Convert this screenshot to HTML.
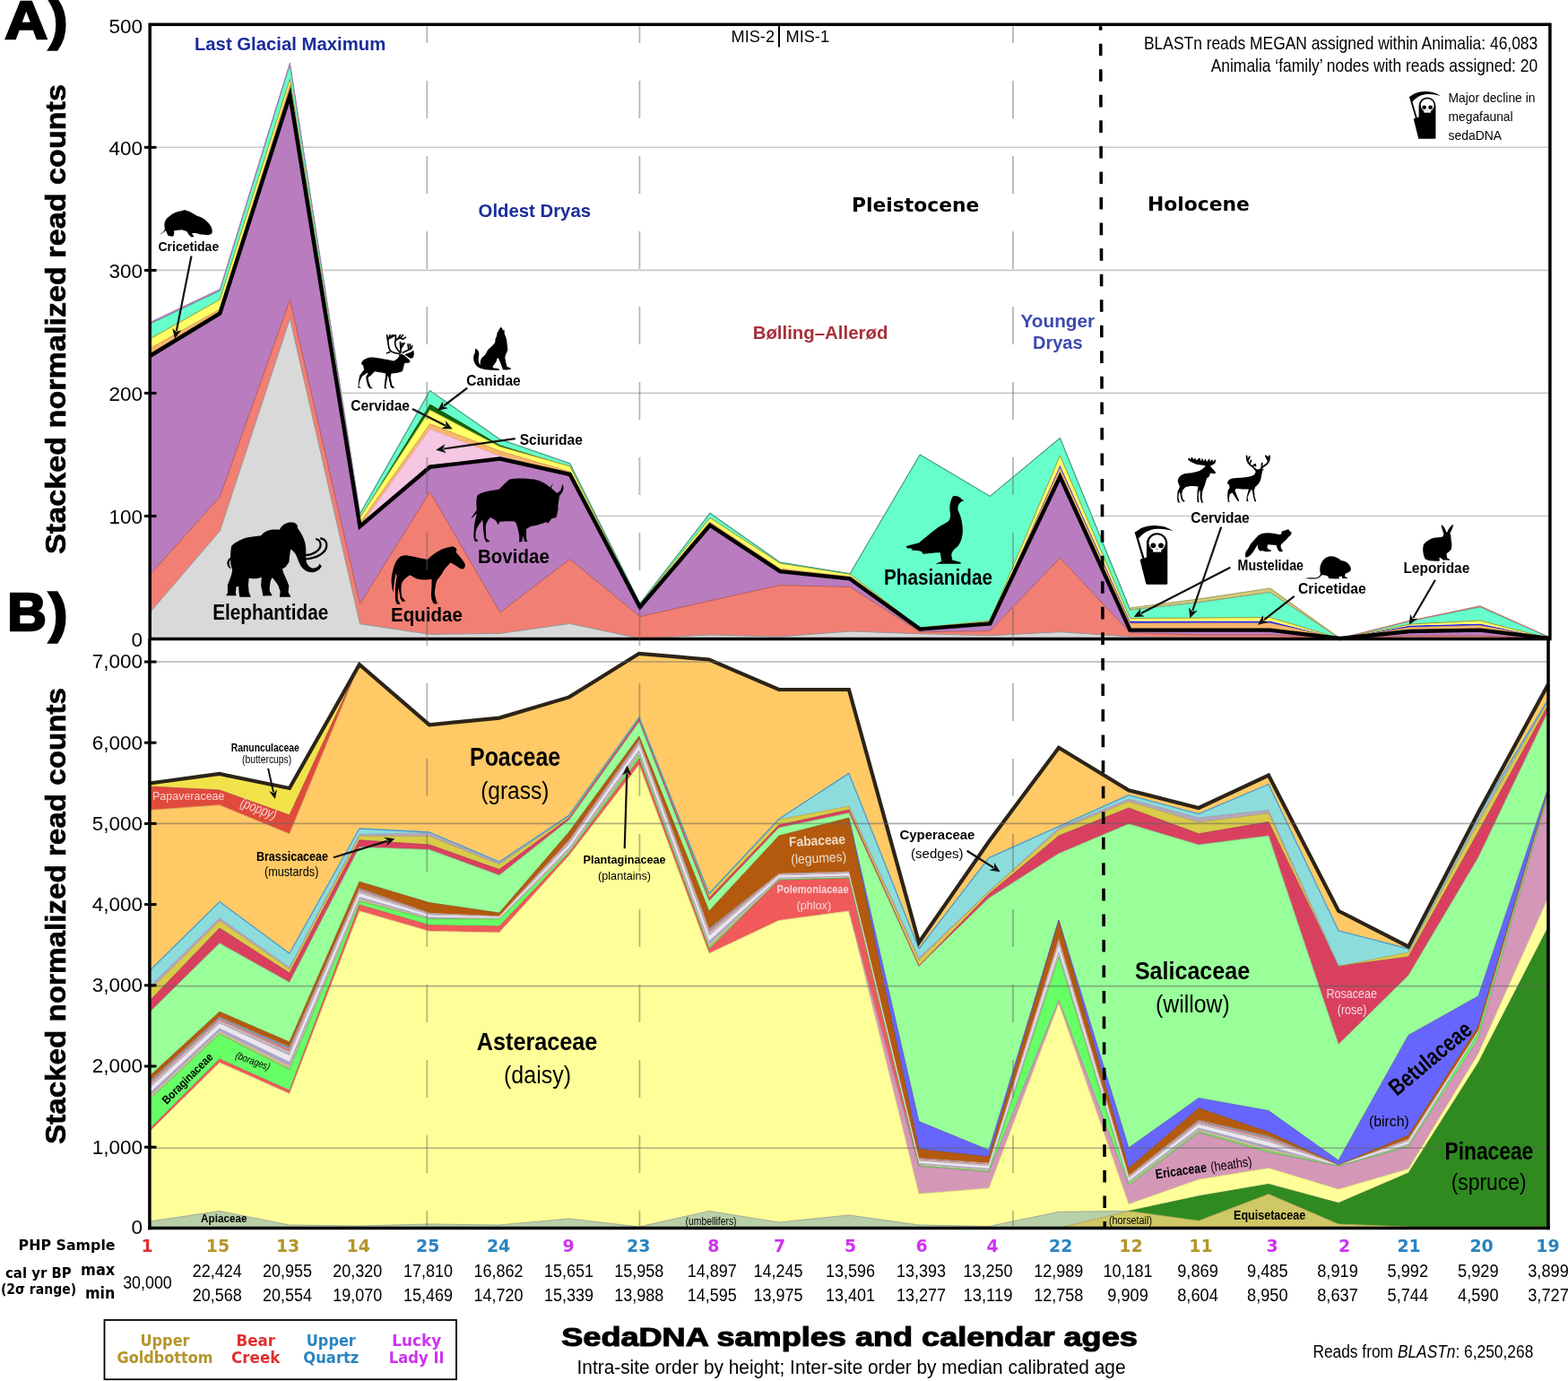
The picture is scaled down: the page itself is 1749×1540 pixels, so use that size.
<!DOCTYPE html>
<html><head><meta charset="utf-8"><title>sedaDNA stacked read counts</title>
<style>html,body{margin:0;padding:0;background:#fff;}svg{display:block;}</style>
</head><body>
<svg width="1749" height="1540" viewBox="0 0 1749 1540">
<rect width="1749" height="1540" fill="#fff"/>
<line x1="168" y1="575.5" x2="1728" y2="575.5" stroke="#c8c8c8" stroke-width="1.6"/>
<line x1="168" y1="438.4" x2="1728" y2="438.4" stroke="#c8c8c8" stroke-width="1.6"/>
<line x1="168" y1="301.4" x2="1728" y2="301.4" stroke="#c8c8c8" stroke-width="1.6"/>
<line x1="168" y1="164.3" x2="1728" y2="164.3" stroke="#c8c8c8" stroke-width="1.6"/>
<polygon points="167.2,683 245.3,592 323.4,355 401.5,695.7 479.6,707.4 557.7,706.4 635.7,695.4 713.8,712 791.9,708 870,710 948.1,704 1026.2,706.7 1104.3,708.8 1182.4,704.7 1260.5,710 1338.6,711 1416.6,711 1494.7,712 1572.8,711 1650.9,711 1729,712 1729,712.5 1650.9,712.5 1572.8,712.5 1494.7,712.5 1416.6,712.5 1338.6,712.5 1260.5,712.5 1182.4,712.5 1104.3,712.5 1026.2,712.5 948.1,712.5 870,712.5 791.9,712.5 713.8,712.5 635.7,712.5 557.7,712.5 479.6,712.5 401.5,712.5 323.4,712.5 245.3,712.5 167.2,712.5" fill="#d9d9d9"/>
<polygon points="167.2,641 245.3,554 323.4,334.5 401.5,673.3 479.6,548.6 557.7,683 635.7,623.7 713.8,687.6 791.9,670 870,652.6 948.1,654.5 1026.2,704.7 1104.3,703.6 1182.4,622.3 1260.5,705.7 1338.6,708 1416.6,708 1494.7,712 1572.8,709 1650.9,709 1729,712 1729,712 1650.9,711 1572.8,711 1494.7,712 1416.6,711 1338.6,711 1260.5,710 1182.4,704.7 1104.3,708.8 1026.2,706.7 948.1,704 870,710 791.9,708 713.8,712 635.7,695.4 557.7,706.4 479.6,707.4 401.5,695.7 323.4,355 245.3,592 167.2,683" fill="#f27f74"/>
<polygon points="167.2,397 245.3,349.5 323.4,106 401.5,587 479.6,520.7 557.7,511.6 635.7,529 713.8,677 791.9,585.7 870,637.2 948.1,645.4 1026.2,701.6 1104.3,695.4 1182.4,531.5 1260.5,702.6 1338.6,702.6 1416.6,702.6 1494.7,712 1572.8,704 1650.9,702.6 1729,712 1729,712 1650.9,709 1572.8,709 1494.7,712 1416.6,708 1338.6,708 1260.5,705.7 1182.4,622.3 1104.3,703.6 1026.2,704.7 948.1,654.5 870,652.6 791.9,670 713.8,687.6 635.7,623.7 557.7,683 479.6,548.6 401.5,673.3 323.4,334.5 245.3,554 167.2,641" fill="#b97cbf"/>
<polygon points="167.2,397 245.3,349.5 323.4,106 401.5,587 479.6,478.4 557.7,508.6 635.7,529 713.8,677 791.9,585.7 870,637.2 948.1,645.4 1026.2,701.6 1104.3,695.4 1182.4,531.5 1260.5,702.6 1338.6,702.6 1416.6,702.6 1494.7,712 1572.8,704 1650.9,702.6 1729,712 1729,712 1650.9,702.6 1572.8,704 1494.7,712 1416.6,702.6 1338.6,702.6 1260.5,702.6 1182.4,531.5 1104.3,695.4 1026.2,701.6 948.1,645.4 870,637.2 791.9,585.7 713.8,677 635.7,529 557.7,511.6 479.6,520.7 401.5,587 323.4,106 245.3,349.5 167.2,397" fill="#f5c7e3"/>
<polygon points="167.2,388.6 245.3,344.8 323.4,95 401.5,583 479.6,472.6 557.7,503 635.7,526 713.8,675 791.9,582 870,634 948.1,643 1026.2,700 1104.3,694 1182.4,521.5 1260.5,695 1338.6,694.8 1416.6,694.8 1494.7,712 1572.8,699.5 1650.9,697.5 1729,712 1729,712 1650.9,702.6 1572.8,704 1494.7,712 1416.6,702.6 1338.6,702.6 1260.5,702.6 1182.4,531.5 1104.3,695.4 1026.2,701.6 948.1,645.4 870,637.2 791.9,585.7 713.8,677 635.7,529 557.7,508.6 479.6,478.4 401.5,587 323.4,106 245.3,349.5 167.2,397" fill="#f8b66a"/>
<polygon points="167.2,388.6 245.3,344.8 323.4,95 401.5,583 479.6,472.6 557.7,503 635.7,526 713.8,675 791.9,582 870,634 948.1,643 1026.2,700 1104.3,694 1182.4,518.5 1260.5,692.6 1338.6,692.6 1416.6,692.6 1494.7,712 1572.8,697.5 1650.9,695.5 1729,712 1729,712 1650.9,697.5 1572.8,699.5 1494.7,712 1416.6,694.8 1338.6,694.8 1260.5,695 1182.4,521.5 1104.3,694 1026.2,700 948.1,643 870,634 791.9,582 713.8,675 635.7,526 557.7,503 479.6,472.6 401.5,583 323.4,95 245.3,344.8 167.2,388.6" fill="#2424f0"/>
<polygon points="167.2,378 245.3,334 323.4,88 401.5,577 479.6,457 557.7,498 635.7,519.8 713.8,674 791.9,577.5 870,628 948.1,640.3 1026.2,700 1104.3,692.3 1182.4,508 1260.5,689.5 1338.6,689 1416.6,688.5 1494.7,712 1572.8,696 1650.9,692 1729,712 1729,712 1650.9,695.5 1572.8,697.5 1494.7,712 1416.6,692.6 1338.6,692.6 1260.5,692.6 1182.4,518.5 1104.3,694 1026.2,700 948.1,643 870,634 791.9,582 713.8,675 635.7,526 557.7,503 479.6,472.6 401.5,583 323.4,95 245.3,344.8 167.2,388.6" fill="#ffff66"/>
<polygon points="167.2,378 245.3,334 323.4,88 401.5,577 479.6,450.2 557.7,496 635.7,519.8 713.8,674 791.9,577.5 870,628 948.1,640.3 1026.2,700 1104.3,692.3 1182.4,508 1260.5,689.5 1338.6,689 1416.6,688.5 1494.7,712 1572.8,696 1650.9,692 1729,712 1729,712 1650.9,692 1572.8,696 1494.7,712 1416.6,688.5 1338.6,689 1260.5,689.5 1182.4,508 1104.3,692.3 1026.2,700 948.1,640.3 870,628 791.9,577.5 713.8,674 635.7,519.8 557.7,498 479.6,457 401.5,577 323.4,88 245.3,334 167.2,378" fill="#0a640a"/>
<polygon points="167.2,361.4 245.3,324.4 323.4,72 401.5,573 479.6,435.6 557.7,490 635.7,516.7 713.8,673 791.9,572.3 870,627 948.1,639.8 1026.2,507 1104.3,553.4 1182.4,488.5 1260.5,680 1338.6,671.5 1416.6,660.4 1494.7,712 1572.8,692.4 1650.9,677 1729,711 1729,712 1650.9,692 1572.8,696 1494.7,712 1416.6,688.5 1338.6,689 1260.5,689.5 1182.4,508 1104.3,692.3 1026.2,700 948.1,640.3 870,628 791.9,577.5 713.8,674 635.7,519.8 557.7,496 479.6,450.2 401.5,577 323.4,88 245.3,334 167.2,378" fill="#66ffcc"/>
<polygon points="167.2,359.6 245.3,322.6 323.4,70.2 401.5,573 479.6,435.6 557.7,490 635.7,516.7 713.8,673 791.9,572.3 870,627 948.1,639.8 1026.2,507 1104.3,553.4 1182.4,488.5 1260.5,680 1338.6,671.5 1416.6,660.4 1494.7,712 1572.8,692.4 1650.9,677 1729,711 1729,711 1650.9,677 1572.8,692.4 1494.7,712 1416.6,660.4 1338.6,671.5 1260.5,680 1182.4,488.5 1104.3,553.4 1026.2,507 948.1,639.8 870,627 791.9,572.3 713.8,673 635.7,516.7 557.7,490 479.6,435.6 401.5,573 323.4,72 245.3,324.4 167.2,361.4" fill="#c080c0"/>
<polygon points="167.2,361.4 245.3,324.4 323.4,72 401.5,573 479.6,435.6 557.7,490 635.7,516.7 713.8,673 791.9,572.3 870,627 948.1,639.8 1026.2,507 1104.3,553.4 1182.4,488.5 1260.5,678 1338.6,667.8 1416.6,656 1494.7,712 1572.8,692.4 1650.9,675.8 1729,711 1729,711 1650.9,677 1572.8,692.4 1494.7,712 1416.6,660.4 1338.6,671.5 1260.5,680 1182.4,488.5 1104.3,553.4 1026.2,507 948.1,639.8 870,627 791.9,572.3 713.8,673 635.7,516.7 557.7,490 479.6,435.6 401.5,573 323.4,72 245.3,324.4 167.2,361.4" fill="#d4cc7c"/>
<polyline points="167.2,683 245.3,592 323.4,355 401.5,695.7 479.6,707.4 557.7,706.4 635.7,695.4 713.8,712 791.9,708 870,710 948.1,704 1026.2,706.7 1104.3,708.8 1182.4,704.7 1260.5,710 1338.6,711 1416.6,711 1494.7,712 1572.8,711 1650.9,711 1729,712" fill="none" stroke="#959595" stroke-width="1" stroke-linejoin="round"/>
<polyline points="167.2,641 245.3,554 323.4,334.5 401.5,673.3 479.6,548.6 557.7,683 635.7,623.7 713.8,687.6 791.9,670 870,652.6 948.1,654.5 1026.2,704.7 1104.3,703.6 1182.4,622.3 1260.5,705.7 1338.6,708 1416.6,708 1494.7,712 1572.8,709 1650.9,709 1729,712" fill="none" stroke="#b85a52" stroke-width="1" stroke-linejoin="round"/>
<polyline points="167.2,397 245.3,349.5 323.4,106 401.5,587 479.6,520.7 557.7,511.6 635.7,529 713.8,677 791.9,585.7 870,637.2 948.1,645.4 1026.2,701.6 1104.3,695.4 1182.4,531.5 1260.5,702.6 1338.6,702.6 1416.6,702.6 1494.7,712 1572.8,704 1650.9,702.6 1729,712" fill="none" stroke="#9a5ea0" stroke-width="1" stroke-linejoin="round"/>
<polyline points="401.5,587 479.6,478.4 557.7,508.6 635.7,529" fill="none" stroke="#d8a0c0" stroke-width="0.8" stroke-linejoin="round"/>
<polyline points="167.2,388.6 245.3,344.8 323.4,95 401.5,583 479.6,472.6 557.7,503 635.7,526 713.8,675 791.9,582 870,634 948.1,643 1026.2,700 1104.3,694 1182.4,521.5 1260.5,695 1338.6,694.8 1416.6,694.8 1494.7,712 1572.8,699.5 1650.9,697.5 1729,712" fill="none" stroke="#c89050" stroke-width="0.8" stroke-linejoin="round"/>
<polyline points="167.2,378 245.3,334 323.4,88 401.5,577 479.6,457 557.7,498 635.7,519.8 713.8,674 791.9,577.5 870,628 948.1,640.3 1026.2,700 1104.3,692.3 1182.4,508 1260.5,689.5 1338.6,689 1416.6,688.5 1494.7,712 1572.8,696 1650.9,692 1729,712" fill="none" stroke="#9a9a30" stroke-width="1.0" stroke-linejoin="round"/>
<polyline points="167.2,361.4 245.3,324.4 323.4,72 401.5,573 479.6,435.6 557.7,490 635.7,516.7 713.8,673 791.9,572.3 870,627 948.1,639.8 1026.2,507 1104.3,553.4 1182.4,488.5 1260.5,680 1338.6,671.5 1416.6,660.4 1494.7,712 1572.8,692.4 1650.9,677 1729,711" fill="none" stroke="#40b090" stroke-width="0.9" stroke-linejoin="round"/>
<polyline points="167.2,359.6 245.3,322.6 323.4,70.2 401.5,573" fill="none" stroke="#b070b0" stroke-width="1.0" stroke-linejoin="round"/>
<polyline points="401.5,573 479.6,435.6 557.7,490 635.7,516.7 713.8,673 791.9,572.3 870,627 948.1,639.8 1026.2,507 1104.3,553.4 1182.4,488.5 1260.5,680" fill="none" stroke="#50a088" stroke-width="1.1" stroke-linejoin="round"/>
<polyline points="1260.5,678 1338.6,667.8 1416.6,656 1494.7,712" fill="none" stroke="#a8a060" stroke-width="1.2" stroke-linejoin="round"/>
<polyline points="1260.5,680 1338.6,671.5 1416.6,660.4 1494.7,712" fill="none" stroke="#b89a60" stroke-width="0.8" stroke-linejoin="round"/>
<polyline points="1494.7,712 1572.8,692.4 1650.9,675.8 1729,711" fill="none" stroke="#c87070" stroke-width="1.2" stroke-linejoin="round"/>
<polyline points="167.2,397 245.3,349.5 323.4,106 401.5,587 479.6,520.7 557.7,511.6 635.7,529 713.8,677 791.9,585.7 870,637.2 948.1,645.4 1026.2,701.6 1104.3,695.4 1182.4,531.5 1260.5,702.6 1338.6,702.6 1416.6,702.6 1494.7,712 1572.8,704 1650.9,702.6 1729,712" fill="none" stroke="#000" stroke-width="4.4" stroke-linejoin="miter" stroke-miterlimit="10"/>
<polygon points="166.9,1369.4 244.9,1369.4 322.9,1369.4 400.9,1369.4 478.9,1369.4 556.9,1369.4 634.9,1369.4 712.9,1369.4 790.9,1369.4 868.9,1369.4 946.9,1369.4 1025,1369.4 1103,1369.4 1181,1369.4 1259,1350.5 1337,1361.3 1415,1331.6 1493,1365 1571,1368 1649,1368 1727,1368 1727,1369.4 1649,1369.4 1571,1369.4 1493,1369.4 1415,1369.4 1337,1369.4 1259,1369.4 1181,1369.4 1103,1369.4 1025,1369.4 946.9,1369.4 868.9,1369.4 790.9,1369.4 712.9,1369.4 634.9,1369.4 556.9,1369.4 478.9,1369.4 400.9,1369.4 322.9,1369.4 244.9,1369.4 166.9,1369.4" fill="#cfc866"/>
<polygon points="166.9,1362 244.9,1350.5 322.9,1366 400.9,1367 478.9,1365 556.9,1366 634.9,1359 712.9,1368 790.9,1350.5 868.9,1363 946.9,1355 1025,1366 1103,1367.5 1181,1351.3 1259,1350.5 1337,1361.3 1415,1331.6 1493,1365 1571,1368 1649,1368 1727,1368 1727,1368 1649,1368 1571,1368 1493,1365 1415,1331.6 1337,1361.3 1259,1350.5 1181,1369.4 1103,1369.4 1025,1369.4 946.9,1369.4 868.9,1369.4 790.9,1369.4 712.9,1369.4 634.9,1369.4 556.9,1369.4 478.9,1369.4 400.9,1369.4 322.9,1369.4 244.9,1369.4 166.9,1369.4" fill="#b8d0a8"/>
<polygon points="166.9,1362 244.9,1350.5 322.9,1366 400.9,1367 478.9,1365 556.9,1366 634.9,1359 712.9,1368 790.9,1350.5 868.9,1363 946.9,1355 1025,1366 1103,1367.5 1181,1351.3 1259,1350.5 1337,1333.8 1415,1320.4 1493,1341.5 1571,1308 1649,1185 1727,1033.8 1727,1368 1649,1368 1571,1368 1493,1365 1415,1331.6 1337,1361.3 1259,1350.5 1181,1351.3 1103,1367.5 1025,1366 946.9,1355 868.9,1363 790.9,1350.5 712.9,1368 634.9,1359 556.9,1366 478.9,1365 400.9,1367 322.9,1366 244.9,1350.5 166.9,1362" fill="#2f8a20"/>
<polygon points="166.9,1262 244.9,1185 322.9,1219.7 400.9,1016 478.9,1038.5 556.9,1040 634.9,954 712.9,853 790.9,1063.3 868.9,1026.5 946.9,1016 1025,1331.3 1103,1324.9 1181,1119 1259,1342.7 1337,1315.2 1415,1302.6 1493,1326.2 1571,1303.5 1649,1175 1727,1000.5 1727,1033.8 1649,1185 1571,1308 1493,1341.5 1415,1320.4 1337,1333.8 1259,1350.5 1181,1351.3 1103,1367.5 1025,1366 946.9,1355 868.9,1363 790.9,1350.5 712.9,1368 634.9,1359 556.9,1366 478.9,1365 400.9,1367 322.9,1366 244.9,1350.5 166.9,1362" fill="#ffff99"/>
<polygon points="166.9,1261.7 244.9,1184.7 322.9,1219.4 400.9,1015.7 478.9,1038.2 556.9,1039.7 634.9,953.7 712.9,852.7 790.9,1063 868.9,1026.2 946.9,1015.7 1025,1300.5 1103,1307 1181,1115.5 1259,1321.9 1337,1263.2 1415,1285.5 1493,1300.5 1571,1279 1649,1158 1727,886 1727,1000.5 1649,1175 1571,1303.5 1493,1326.2 1415,1302.6 1337,1315.2 1259,1342.7 1181,1119 1103,1324.9 1025,1331.3 946.9,1016 868.9,1026.5 790.9,1063.3 712.9,853 634.9,954 556.9,1040 478.9,1038.5 400.9,1016 322.9,1219.7 244.9,1185 166.9,1262" fill="#d597b8"/>
<polygon points="166.9,1259 244.9,1181 322.9,1216 400.9,1008.9 478.9,1031.7 556.9,1032.9 634.9,951 712.9,846 790.9,1058.5 868.9,981.6 946.9,979.4 1025,1300.5 1103,1307 1181,1115.5 1259,1321.9 1337,1263.2 1415,1285.5 1493,1300.5 1571,1279 1649,1158 1727,886 1727,886 1649,1158 1571,1279 1493,1300.5 1415,1285.5 1337,1263.2 1259,1321.9 1181,1115.5 1103,1307 1025,1300.5 946.9,1015.7 868.9,1026.2 790.9,1063 712.9,852.7 634.9,953.7 556.9,1039.7 478.9,1038.2 400.9,1015.7 322.9,1219.4 244.9,1184.7 166.9,1261.7" fill="#f05a5a"/>
<polygon points="166.9,1226 244.9,1153.2 322.9,1192.8 400.9,1005 478.9,1024.9 556.9,1024.9 634.9,949.6 712.9,842 790.9,1056.8 868.9,981 946.9,979 1025,1300 1103,1306 1181,1067 1259,1320 1337,1262 1415,1284 1493,1300 1571,1278 1649,1152 1727,885 1727,886 1649,1158 1571,1279 1493,1300.5 1415,1285.5 1337,1263.2 1259,1321.9 1181,1115.5 1103,1307 1025,1300.5 946.9,979.4 868.9,981.6 790.9,1058.5 712.9,846 634.9,951 556.9,1032.9 478.9,1031.7 400.9,1008.9 322.9,1216 244.9,1181 166.9,1259" fill="#66ff66"/>
<polygon points="166.9,1205.5 244.9,1134 322.9,1167.5 400.9,990.6 478.9,1018 556.9,1021.5 634.9,936.4 712.9,825 790.9,1035.4 868.9,974 946.9,971.7 1025,1291.5 1103,1296.7 1181,1046.7 1259,1310.7 1337,1249 1415,1267 1493,1299 1571,1270 1649,1149 1727,882 1727,882.3 1649,1149.3 1571,1270.8 1493,1299.1 1415,1268.7 1337,1250.3 1259,1311.6 1181,1048.7 1103,1297.6 1025,1292.3 946.9,972.4 868.9,974.7 790.9,1037.5 712.9,826.7 634.9,937.7 556.9,1021.8 478.9,1018.7 400.9,992 322.9,1170 244.9,1135.9 166.9,1207.5" fill="#6a90ae"/>
<polygon points="166.9,1207.5 244.9,1135.9 322.9,1170 400.9,992 478.9,1018.7 556.9,1021.8 634.9,937.7 712.9,826.7 790.9,1037.5 868.9,974.7 946.9,972.4 1025,1292.3 1103,1297.6 1181,1048.7 1259,1311.6 1337,1250.3 1415,1268.7 1493,1299.1 1571,1270.8 1649,1149.3 1727,882.3 1727,882.7 1649,1149.7 1571,1271.8 1493,1299.2 1415,1270.7 1337,1251.9 1259,1312.7 1181,1051.2 1103,1298.7 1025,1293.4 946.9,973.3 868.9,975.5 790.9,1040.1 712.9,828.7 634.9,939.3 556.9,1022.2 478.9,1019.5 400.9,993.8 322.9,1173.1 244.9,1138.2 166.9,1210" fill="#d07a7a"/>
<polygon points="166.9,1210 244.9,1138.2 322.9,1173.1 400.9,993.8 478.9,1019.5 556.9,1022.2 634.9,939.3 712.9,828.7 790.9,1040.1 868.9,975.5 946.9,973.3 1025,1293.4 1103,1298.7 1181,1051.2 1259,1312.7 1337,1251.9 1415,1270.7 1493,1299.2 1571,1271.8 1649,1149.7 1727,882.7 1727,883.2 1649,1150.2 1571,1273.2 1493,1299.4 1415,1273.8 1337,1254.2 1259,1314.4 1181,1054.8 1103,1300.4 1025,1294.9 946.9,974.6 868.9,976.8 790.9,1044 712.9,831.8 634.9,941.7 556.9,1022.9 478.9,1020.8 400.9,996.4 322.9,1177.6 244.9,1141.7 166.9,1213.7" fill="#bdb4bd"/>
<polygon points="166.9,1213.7 244.9,1141.7 322.9,1177.6 400.9,996.4 478.9,1020.8 556.9,1022.9 634.9,941.7 712.9,831.8 790.9,1044 868.9,976.8 946.9,974.6 1025,1294.9 1103,1300.4 1181,1054.8 1259,1314.4 1337,1254.2 1415,1273.8 1493,1299.4 1571,1273.2 1649,1150.2 1727,883.2 1727,884 1649,1151 1571,1275.2 1493,1299.7 1415,1278 1337,1257.5 1259,1316.7 1181,1059.9 1103,1302.7 1025,1297 946.9,976.4 868.9,978.5 790.9,1049.3 712.9,836 634.9,945 556.9,1023.7 478.9,1022.5 400.9,1000 322.9,1183.9 244.9,1146.5 166.9,1218.8" fill="#ece6ee"/>
<polygon points="166.9,1218.8 244.9,1146.5 322.9,1183.9 400.9,1000 478.9,1022.5 556.9,1023.7 634.9,945 712.9,836 790.9,1049.3 868.9,978.5 946.9,976.4 1025,1297 1103,1302.7 1181,1059.9 1259,1316.7 1337,1257.5 1415,1278 1493,1299.7 1571,1275.2 1649,1151 1727,884 1727,884.5 1649,1151.5 1571,1276.8 1493,1299.8 1415,1281.5 1337,1260 1259,1318.6 1181,1064 1103,1304.6 1025,1298.7 946.9,977.9 868.9,980 790.9,1053.6 712.9,839.5 634.9,947.6 556.9,1024.4 478.9,1023.9 400.9,1002.8 322.9,1189 244.9,1150.3 166.9,1222.9" fill="#aaa4c4"/>
<polygon points="166.9,1222.9 244.9,1150.3 322.9,1189 400.9,1002.8 478.9,1023.9 556.9,1024.4 634.9,947.6 712.9,839.5 790.9,1053.6 868.9,980 946.9,977.9 1025,1298.7 1103,1304.6 1181,1064 1259,1318.6 1337,1260 1415,1281.5 1493,1299.8 1571,1276.8 1649,1151.5 1727,884.5 1727,885 1649,1152 1571,1278 1493,1300 1415,1284 1337,1262 1259,1320 1181,1067 1103,1306 1025,1300 946.9,979 868.9,981 790.9,1056.8 712.9,842 634.9,949.6 556.9,1024.9 478.9,1024.9 400.9,1005 322.9,1192.8 244.9,1153.2 166.9,1226" fill="#c8bc80"/>
<polygon points="166.9,1200 244.9,1128.2 322.9,1162 400.9,983.2 478.9,1006.6 556.9,1018 634.9,927.5 712.9,821 790.9,1016 868.9,932 946.9,912 1025,1281.3 1103,1290 1181,1026 1259,1302.6 1337,1235.7 1415,1262.4 1493,1299 1571,1266 1649,1144 1727,881 1727,882 1649,1149 1571,1270 1493,1299 1415,1267 1337,1249 1259,1310.7 1181,1046.7 1103,1296.7 1025,1291.5 946.9,971.7 868.9,974 790.9,1035.4 712.9,825 634.9,936.4 556.9,1021.5 478.9,1018 400.9,990.6 322.9,1167.5 244.9,1134 166.9,1205.5" fill="#b35a0e"/>
<polygon points="166.9,1200 244.9,1128.2 322.9,1162 400.9,983.2 478.9,1006.6 556.9,1018 634.9,927.5 712.9,821 790.9,1016 868.9,932 946.9,912 1025,1250.5 1103,1282.6 1181,1026 1259,1280 1337,1224.5 1415,1238.6 1493,1294 1571,1154.4 1649,1110.8 1727,878 1727,881 1649,1144 1571,1266 1493,1299 1415,1262.4 1337,1235.7 1259,1302.6 1181,1026 1103,1290 1025,1281.3 946.9,912 868.9,932 790.9,1016 712.9,821 634.9,927.5 556.9,1018 478.9,1006.6 400.9,983.2 322.9,1162 244.9,1128.2 166.9,1200" fill="#6666ff"/>
<polygon points="166.9,1128.7 244.9,1051.8 322.9,1095.4 400.9,944.5 478.9,947.4 556.9,976 634.9,914.3 712.9,805 790.9,1004.8 868.9,923 946.9,906.6 1025,1077.4 1103,1001.4 1181,951.8 1259,918.7 1337,942 1415,932 1493,1164.6 1571,1087.7 1649,956 1727,793 1727,878 1649,1110.8 1571,1154.4 1493,1294 1415,1238.6 1337,1224.5 1259,1280 1181,1026 1103,1282.6 1025,1250.5 946.9,912 868.9,932 790.9,1016 712.9,821 634.9,927.5 556.9,1018 478.9,1006.6 400.9,983.2 322.9,1162 244.9,1128.2 166.9,1200" fill="#99ff99"/>
<polygon points="166.9,1116 244.9,1035 322.9,1085 400.9,936.8 478.9,942 556.9,969.6 634.9,912 712.9,802 790.9,1001.5 868.9,920 946.9,903 1025,1077 1103,997 1181,932 1259,901 1337,929.8 1415,916.5 1493,1077.4 1571,1067 1649,927.5 1727,786 1727,793 1649,956 1571,1087.7 1493,1164.6 1415,932 1337,942 1259,918.7 1181,951.8 1103,1001.4 1025,1077.4 946.9,906.6 868.9,923 790.9,1004.8 712.9,805 634.9,914.3 556.9,976 478.9,947.4 400.9,944.5 322.9,1095.4 244.9,1051.8 166.9,1128.7" fill="#d9405f"/>
<polygon points="166.9,1104.5 244.9,1026.8 322.9,1080.5 400.9,932.3 478.9,932.4 556.9,964 634.9,909.9 712.9,800.5 790.9,997.1 868.9,914 946.9,899 1025,1070.5 1103,994.3 1181,925.5 1259,893.8 1337,917 1415,906.9 1493,1077.4 1571,1062 1649,917.1 1727,781 1727,786 1649,927.5 1571,1067 1493,1077.4 1415,916.5 1337,929.8 1259,901 1181,932 1103,997 1025,1077 946.9,903 868.9,920 790.9,1001.5 712.9,802 634.9,912 556.9,969.6 478.9,942 400.9,936.8 322.9,1085 244.9,1035 166.9,1116" fill="#d8cc48"/>
<polygon points="166.9,1100 244.9,1023.6 322.9,1078.7 400.9,930.5 478.9,928.7 556.9,961.8 634.9,909.9 712.9,800.5 790.9,997.1 868.9,914 946.9,899 1025,1068 1103,994.3 1181,923 1259,891 1337,912 1415,903.2 1493,1077.4 1571,1062 1649,913 1727,781 1727,781 1649,917.1 1571,1062 1493,1077.4 1415,906.9 1337,917 1259,893.8 1181,925.5 1103,994.3 1025,1070.5 946.9,899 868.9,914 790.9,997.1 712.9,800.5 634.9,909.9 556.9,964 478.9,932.4 400.9,932.3 322.9,1080.5 244.9,1026.8 166.9,1104.5" fill="#b4a8bc"/>
<polygon points="166.9,1082.5 244.9,1005.6 322.9,1063.3 400.9,924 478.9,928 556.9,961 634.9,909 712.9,799.8 790.9,996.5 868.9,913.2 946.9,862.4 1025,1058 1103,956.6 1181,921.6 1259,886.7 1337,907.7 1415,874.5 1493,1037.9 1571,1058 1649,909 1727,779.6 1727,781 1649,913 1571,1062 1493,1077.4 1415,903.2 1337,912 1259,891 1181,923 1103,994.3 1025,1068 946.9,899 868.9,914 790.9,997.1 712.9,800.5 634.9,909.9 556.9,961.8 478.9,928.7 400.9,930.5 322.9,1078.7 244.9,1023.6 166.9,1100" fill="#8cdcdc"/>
<polygon points="166.9,903.3 244.9,897.7 322.9,929.8 400.9,741 478.9,808.3 556.9,800.6 634.9,777.4 712.9,728.8 790.9,735.5 868.9,769 946.9,769 1025,1051 1103,938.5 1181,833.7 1259,881.2 1337,901 1415,864.6 1493,1015.8 1571,1055.6 1649,906 1727,763 1727,779.6 1649,909 1571,1058 1493,1037.9 1415,874.5 1337,907.7 1259,886.7 1181,921.6 1103,956.6 1025,1058 946.9,862.4 868.9,913.2 790.9,996.5 712.9,799.8 634.9,909 556.9,961 478.9,928 400.9,924 322.9,1063.3 244.9,1005.6 166.9,1082.5" fill="#ffc966"/>
<polygon points="166.9,877 244.9,881 322.9,908.8 400.9,741 478.9,808.3 556.9,800.6 634.9,777.4 712.9,728.8 790.9,735.5 868.9,769 946.9,769 1025,1051 1103,938.5 1181,833.7 1259,881.2 1337,901 1415,864.6 1493,1015.8 1571,1055.6 1649,906 1727,763 1727,763 1649,906 1571,1055.6 1493,1015.8 1415,864.6 1337,901 1259,881.2 1181,833.7 1103,938.5 1025,1051 946.9,769 868.9,769 790.9,735.5 712.9,728.8 634.9,777.4 556.9,800.6 478.9,808.3 400.9,741 322.9,929.8 244.9,897.7 166.9,903.3" fill="#e04a3c"/>
<polygon points="166.9,873.5 244.9,863 322.9,879 400.9,741 478.9,808.3 556.9,800.6 634.9,777.4 712.9,728.8 790.9,735.5 868.9,769 946.9,769 1025,1051 1103,938.5 1181,833.7 1259,881.2 1337,901 1415,864.6 1493,1015.8 1571,1055.6 1649,906 1727,763 1727,763 1649,906 1571,1055.6 1493,1015.8 1415,864.6 1337,901 1259,881.2 1181,833.7 1103,938.5 1025,1051 946.9,769 868.9,769 790.9,735.5 712.9,728.8 634.9,777.4 556.9,800.6 478.9,808.3 400.9,741 322.9,908.8 244.9,881 166.9,877" fill="#f2e24a"/>
<polyline points="1181,1369.4 1259,1350.5 1337,1361.3 1415,1331.6 1493,1365 1571,1368 1649,1368 1727,1368" fill="none" stroke="#a8a050" stroke-width="0.8" stroke-linejoin="round"/>
<polyline points="166.9,1362 244.9,1350.5 322.9,1366 400.9,1367 478.9,1365 556.9,1366 634.9,1359 712.9,1368 790.9,1350.5 868.9,1363 946.9,1355 1025,1366 1103,1367.5 1181,1351.3 1259,1350.5" fill="none" stroke="#909890" stroke-width="0.8" stroke-linejoin="round"/>
<polyline points="1259,1350.5 1337,1333.8 1415,1320.4 1493,1341.5 1571,1308 1649,1185 1727,1033.8" fill="none" stroke="#287020" stroke-width="0.8" stroke-linejoin="round"/>
<polyline points="166.9,1262 244.9,1185 322.9,1219.7 400.9,1016 478.9,1038.5 556.9,1040 634.9,954 712.9,853 790.9,1063.3 868.9,1026.5 946.9,1016 1025,1331.3 1103,1324.9 1181,1119 1259,1342.7 1337,1315.2 1415,1302.6 1493,1326.2 1571,1303.5 1649,1175 1727,1000.5" fill="none" stroke="#d8d870" stroke-width="0.8" stroke-linejoin="round"/>
<polyline points="946.9,1015.7 1025,1300.5 1103,1307 1181,1115.5 1259,1321.9 1337,1263.2 1415,1285.5 1493,1300.5 1571,1279 1649,1158 1727,886" fill="none" stroke="#b07898" stroke-width="0.8" stroke-linejoin="round"/>
<polyline points="166.9,1259 244.9,1181 322.9,1216 400.9,1008.9 478.9,1031.7 556.9,1032.9 634.9,951 712.9,846 790.9,1058.5 868.9,981.6 946.9,979.4 1025,1300.5" fill="none" stroke="#c84848" stroke-width="0.8" stroke-linejoin="round"/>
<polyline points="166.9,1226 244.9,1153.2 322.9,1192.8 400.9,1005 478.9,1024.9 556.9,1024.9 634.9,949.6 712.9,842 790.9,1056.8 868.9,981 946.9,979 1025,1300 1103,1306 1181,1067 1259,1320 1337,1262 1415,1284 1493,1300 1571,1278 1649,1152 1727,885" fill="none" stroke="#50c050" stroke-width="0.8" stroke-linejoin="round"/>
<polyline points="166.9,1200 244.9,1128.2 322.9,1162 400.9,983.2 478.9,1006.6 556.9,1018 634.9,927.5 712.9,821 790.9,1016 868.9,932 946.9,912 1025,1281.3 1103,1290 1181,1026 1259,1302.6 1337,1235.7 1415,1262.4 1493,1299 1571,1266 1649,1144 1727,881" fill="none" stroke="#8a4a10" stroke-width="0.8" stroke-linejoin="round"/>
<polyline points="946.9,912 1025,1250.5 1103,1282.6 1181,1026 1259,1280 1337,1224.5 1415,1238.6 1493,1294 1571,1154.4 1649,1110.8 1727,878" fill="none" stroke="#5050c0" stroke-width="0.8" stroke-linejoin="round"/>
<polyline points="166.9,1128.7 244.9,1051.8 322.9,1095.4 400.9,944.5 478.9,947.4 556.9,976 634.9,914.3 712.9,805 790.9,1004.8 868.9,923 946.9,906.6 1025,1077.4 1103,1001.4 1181,951.8 1259,918.7 1337,942 1415,932 1493,1164.6 1571,1087.7 1649,956 1727,793" fill="none" stroke="#80c080" stroke-width="0.8" stroke-linejoin="round"/>
<polyline points="166.9,1116 244.9,1035 322.9,1085 400.9,936.8 478.9,942 556.9,969.6 634.9,912 712.9,802 790.9,1001.5 868.9,920 946.9,903 1025,1077 1103,997 1181,932 1259,901 1337,929.8 1415,916.5 1493,1077.4 1571,1067 1649,927.5 1727,786" fill="none" stroke="#b03050" stroke-width="0.8" stroke-linejoin="round"/>
<polyline points="166.9,1104.5 244.9,1026.8 322.9,1080.5 400.9,932.3 478.9,932.4 556.9,964 634.9,909.9 712.9,800.5 790.9,997.1 868.9,914 946.9,899 1025,1070.5 1103,994.3 1181,925.5 1259,893.8 1337,917 1415,906.9 1493,1077.4 1571,1062 1649,917.1 1727,781" fill="none" stroke="#b0a050" stroke-width="0.8" stroke-linejoin="round"/>
<polyline points="166.9,1100 244.9,1023.6 322.9,1078.7 400.9,930.5 478.9,928.7 556.9,961.8 634.9,909.9" fill="none" stroke="#9088a0" stroke-width="0.6" stroke-linejoin="round"/>
<polyline points="946.9,899 1025,1068 1103,994.3 1181,923 1259,891 1337,912 1415,903.2 1493,1077.4" fill="none" stroke="#9088a0" stroke-width="0.6" stroke-linejoin="round"/>
<polyline points="1571,1062 1649,913 1727,781" fill="none" stroke="#9088a0" stroke-width="0.6" stroke-linejoin="round"/>
<polyline points="166.9,1082.5 244.9,1005.6 322.9,1063.3 400.9,924 478.9,928 556.9,961 634.9,909 712.9,799.8 790.9,996.5 868.9,913.2 946.9,862.4 1025,1058 1103,956.6 1181,921.6 1259,886.7 1337,907.7 1415,874.5 1493,1037.9 1571,1058 1649,909 1727,779.6" fill="none" stroke="#4a9ccc" stroke-width="1.3" stroke-linejoin="round"/>
<polyline points="166.9,903.3 244.9,897.7 322.9,929.8 400.9,741 478.9,808.3 556.9,800.6 634.9,777.4 712.9,728.8 790.9,735.5 868.9,769 946.9,769 1025,1051 1103,938.5 1181,833.7 1259,881.2 1337,901 1415,864.6 1493,1015.8 1571,1055.6 1649,906 1727,763" fill="none" stroke="#d0a050" stroke-width="0.8" stroke-linejoin="round"/>
<polyline points="166.9,877 244.9,881 322.9,908.8 400.9,741" fill="none" stroke="#b04040" stroke-width="0.8" stroke-linejoin="round"/>
<polyline points="166.9,873.5 244.9,863 322.9,879 400.9,741" fill="none" stroke="#c8b840" stroke-width="0.8" stroke-linejoin="round"/>
<polyline points="166.9,873.5 244.9,863 322.9,879 400.9,741 478.9,808.3 556.9,800.6 634.9,777.4 712.9,728.8 790.9,735.5 868.9,769 946.9,769 1025,1051 1103,938.5 1181,833.7 1259,881.2 1337,901 1415,864.6 1493,1015.8 1571,1055.6 1649,906 1727,763" fill="none" stroke="#2c2418" stroke-width="4.2" stroke-linejoin="miter"/>
<line x1="168" y1="1280.2" x2="1728" y2="1280.2" stroke="#606060" stroke-opacity="0.5" stroke-width="1.6"/>
<line x1="168" y1="1099.6" x2="1728" y2="1099.6" stroke="#606060" stroke-opacity="0.5" stroke-width="1.6"/>
<line x1="168" y1="918.4" x2="1728" y2="918.4" stroke="#606060" stroke-opacity="0.5" stroke-width="1.6"/>
<line x1="168" y1="738" x2="1728" y2="738" stroke="#606060" stroke-opacity="0.5" stroke-width="1.6"/>
<line x1="1227.6" y1="29.2" x2="1232.3" y2="1369" stroke="#000" stroke-width="3.6" stroke-dasharray="13.6 14.95" stroke-dashoffset="9.05"/>
<rect x="167.2" y="27.3" width="1561.7" height="685.2" fill="none" stroke="#000" stroke-width="3.5"/>
<line x1="166.9" y1="712.5" x2="166.9" y2="1371.2" stroke="#000" stroke-width="3.5"/>
<line x1="1727" y1="712.5" x2="1727" y2="1371.2" stroke="#000" stroke-width="3.6"/>
<line x1="165.2" y1="1369.5" x2="1728.8" y2="1369.5" stroke="#000" stroke-width="3.6"/>
<text x="159" y="720.9" font-family='"Liberation Sans", Arial, sans-serif' font-size="22.5" font-weight="normal" fill="#000" text-anchor="end">0</text>
<line x1="161" y1="575.5" x2="174.5" y2="575.5" stroke="#000" stroke-width="3"/>
<text x="159" y="583.9" font-family='"Liberation Sans", Arial, sans-serif' font-size="22.5" font-weight="normal" fill="#000" text-anchor="end">100</text>
<line x1="161" y1="438.4" x2="174.5" y2="438.4" stroke="#000" stroke-width="3"/>
<text x="159" y="446.8" font-family='"Liberation Sans", Arial, sans-serif' font-size="22.5" font-weight="normal" fill="#000" text-anchor="end">200</text>
<line x1="161" y1="301.4" x2="174.5" y2="301.4" stroke="#000" stroke-width="3"/>
<text x="159" y="309.8" font-family='"Liberation Sans", Arial, sans-serif' font-size="22.5" font-weight="normal" fill="#000" text-anchor="end">300</text>
<line x1="161" y1="164.3" x2="174.5" y2="164.3" stroke="#000" stroke-width="3"/>
<text x="159" y="172.7" font-family='"Liberation Sans", Arial, sans-serif' font-size="22.5" font-weight="normal" fill="#000" text-anchor="end">400</text>
<text x="159" y="37.4" font-family='"Liberation Sans", Arial, sans-serif' font-size="22.5" font-weight="normal" fill="#000" text-anchor="end">500</text>
<line x1="161" y1="1279.2" x2="174.5" y2="1279.2" stroke="#000" stroke-width="3"/>
<text x="159" y="1286.5" font-family='"Liberation Sans", Arial, sans-serif' font-size="22.5" font-weight="normal" fill="#000" text-anchor="end">1,000</text>
<line x1="161" y1="1189" x2="174.5" y2="1189" stroke="#000" stroke-width="3"/>
<text x="159" y="1196.3" font-family='"Liberation Sans", Arial, sans-serif' font-size="22.5" font-weight="normal" fill="#000" text-anchor="end">2,000</text>
<line x1="161" y1="1098.8" x2="174.5" y2="1098.8" stroke="#000" stroke-width="3"/>
<text x="159" y="1106.1" font-family='"Liberation Sans", Arial, sans-serif' font-size="22.5" font-weight="normal" fill="#000" text-anchor="end">3,000</text>
<line x1="161" y1="1008.6" x2="174.5" y2="1008.6" stroke="#000" stroke-width="3"/>
<text x="159" y="1015.9" font-family='"Liberation Sans", Arial, sans-serif' font-size="22.5" font-weight="normal" fill="#000" text-anchor="end">4,000</text>
<line x1="161" y1="918.4" x2="174.5" y2="918.4" stroke="#000" stroke-width="3"/>
<text x="159" y="925.7" font-family='"Liberation Sans", Arial, sans-serif' font-size="22.5" font-weight="normal" fill="#000" text-anchor="end">5,000</text>
<line x1="161" y1="828.2" x2="174.5" y2="828.2" stroke="#000" stroke-width="3"/>
<text x="159" y="835.5" font-family='"Liberation Sans", Arial, sans-serif' font-size="22.5" font-weight="normal" fill="#000" text-anchor="end">6,000</text>
<line x1="161" y1="738" x2="174.5" y2="738" stroke="#000" stroke-width="3"/>
<text x="159" y="745.3" font-family='"Liberation Sans", Arial, sans-serif' font-size="22.5" font-weight="normal" fill="#000" text-anchor="end">7,000</text>
<text x="159" y="1376" font-family='"Liberation Sans", Arial, sans-serif' font-size="22.5" font-weight="normal" fill="#000" text-anchor="end">0</text>
<text x="5.6" y="43.2" font-family='"Liberation Sans", Arial, sans-serif' font-size="59" font-weight="bold" fill="#000" text-anchor="start" textLength="47.5" lengthAdjust="spacingAndGlyphs" stroke="#000" stroke-width="2.6">A</text>
<text x="55.3" y="42.9" font-family='"Liberation Sans", Arial, sans-serif' font-size="59" font-weight="bold" fill="#000" text-anchor="start" textLength="19.5" lengthAdjust="spacingAndGlyphs" stroke="#000" stroke-width="3.4">)</text>
<text x="8.2" y="703" font-family='"Liberation Sans", Arial, sans-serif' font-size="59" font-weight="bold" fill="#000" text-anchor="start" textLength="43.5" lengthAdjust="spacingAndGlyphs" stroke="#000" stroke-width="2.6">B</text>
<text x="55.3" y="703.6" font-family='"Liberation Sans", Arial, sans-serif' font-size="59" font-weight="bold" fill="#000" text-anchor="start" textLength="19.5" lengthAdjust="spacingAndGlyphs" stroke="#000" stroke-width="3.4">)</text>
<text transform="translate(72.5,618) rotate(-90)" font-family='"Liberation Sans", Arial, sans-serif' font-size="31" font-weight="bold" fill="#000" textLength="524" lengthAdjust="spacingAndGlyphs" stroke="#000" stroke-width="0.6">Stacked normalized read counts</text>
<text transform="translate(72.5,1276) rotate(-90)" font-family='"Liberation Sans", Arial, sans-serif' font-size="31" font-weight="bold" fill="#000" textLength="509" lengthAdjust="spacingAndGlyphs" stroke="#000" stroke-width="0.6">Stacked normalized read counts</text>
<text x="216.9" y="56.1" font-family='"Liberation Sans", Arial, sans-serif' font-size="19.5" font-weight="bold" fill="#1a2c98" text-anchor="start" textLength="213.3" lengthAdjust="spacingAndGlyphs">Last Glacial Maximum</text>
<text x="533.6" y="241.5" font-family='"Liberation Sans", Arial, sans-serif' font-size="21" font-weight="bold" fill="#1a2c98" text-anchor="start" textLength="125.4" lengthAdjust="spacingAndGlyphs">Oldest Dryas</text>
<text x="950" y="235.7" font-family='"DejaVu Sans", Verdana, sans-serif' font-size="22" font-weight="bold" fill="#000" text-anchor="start" textLength="142.4" lengthAdjust="spacingAndGlyphs">Pleistocene</text>
<text x="1279.9" y="235.4" font-family='"DejaVu Sans", Verdana, sans-serif' font-size="22" font-weight="bold" fill="#000" text-anchor="start" textLength="114" lengthAdjust="spacingAndGlyphs">Holocene</text>
<text x="839.7" y="378" font-family='"Liberation Sans", Arial, sans-serif' font-size="21" font-weight="bold" fill="#a8303a" text-anchor="start" textLength="150.7" lengthAdjust="spacingAndGlyphs">Bølling–Allerød</text>
<text x="1179.8" y="365.4" font-family='"Liberation Sans", Arial, sans-serif' font-size="21" font-weight="bold" fill="#3a4aae" text-anchor="middle" textLength="82.4" lengthAdjust="spacingAndGlyphs">Younger</text>
<text x="1179.8" y="388.7" font-family='"Liberation Sans", Arial, sans-serif' font-size="21" font-weight="bold" fill="#3a4aae" text-anchor="middle" textLength="55.6" lengthAdjust="spacingAndGlyphs">Dryas</text>
<text x="815.5" y="47" font-family='"Liberation Sans", Arial, sans-serif' font-size="19" font-weight="normal" fill="#000" text-anchor="start" textLength="48.5" lengthAdjust="spacingAndGlyphs">MIS-2</text>
<line x1="869" y1="29" x2="869" y2="52.5" stroke="#000" stroke-width="2"/>
<text x="876.5" y="47" font-family='"Liberation Sans", Arial, sans-serif' font-size="19" font-weight="normal" fill="#000" text-anchor="start" textLength="48.5" lengthAdjust="spacingAndGlyphs">MIS-1</text>
<text x="1715.2" y="54.8" font-family='"Liberation Sans", Arial, sans-serif' font-size="21" font-weight="normal" fill="#000" text-anchor="end" textLength="439.2" lengthAdjust="spacingAndGlyphs">BLASTn reads MEGAN assigned within Animalia: 46,083</text>
<text x="1715.2" y="79.9" font-family='"Liberation Sans", Arial, sans-serif' font-size="21" font-weight="normal" fill="#000" text-anchor="end" textLength="364.5" lengthAdjust="spacingAndGlyphs">Animalia ‘family’ nodes with reads assigned: 20</text>
<text x="1615.6" y="114.4" font-family='"Liberation Sans", Arial, sans-serif' font-size="14.5" font-weight="normal" fill="#000" text-anchor="start" textLength="96.8" lengthAdjust="spacingAndGlyphs">Major decline in</text>
<text x="1615.6" y="135" font-family='"Liberation Sans", Arial, sans-serif' font-size="14.5" font-weight="normal" fill="#000" text-anchor="start" textLength="72" lengthAdjust="spacingAndGlyphs">megafaunal</text>
<text x="1615.6" y="155.5" font-family='"Liberation Sans", Arial, sans-serif' font-size="14.5" font-weight="normal" fill="#000" text-anchor="start" textLength="59.5" lengthAdjust="spacingAndGlyphs">sedaDNA</text>
<text x="176.5" y="280" font-family='"Liberation Sans", Arial, sans-serif' font-size="15.5" font-weight="bold" fill="#000" text-anchor="start" textLength="67.7" lengthAdjust="spacingAndGlyphs">Cricetidae</text>
<text x="237.2" y="690.8" font-family='"Liberation Sans", Arial, sans-serif' font-size="23" font-weight="bold" fill="#000" text-anchor="start" textLength="129.1" lengthAdjust="spacingAndGlyphs">Elephantidae</text>
<text x="391.3" y="458" font-family='"Liberation Sans", Arial, sans-serif' font-size="16" font-weight="bold" fill="#000" text-anchor="start" textLength="65.7" lengthAdjust="spacingAndGlyphs">Cervidae</text>
<text x="520.3" y="429.7" font-family='"Liberation Sans", Arial, sans-serif' font-size="16" font-weight="bold" fill="#000" text-anchor="start" textLength="60.4" lengthAdjust="spacingAndGlyphs">Canidae</text>
<text x="579.7" y="496" font-family='"Liberation Sans", Arial, sans-serif' font-size="16" font-weight="bold" fill="#000" text-anchor="start" textLength="70.1" lengthAdjust="spacingAndGlyphs">Sciuridae</text>
<text x="436.1" y="692.7" font-family='"Liberation Sans", Arial, sans-serif' font-size="22" font-weight="bold" fill="#000" text-anchor="start" textLength="79.7" lengthAdjust="spacingAndGlyphs">Equidae</text>
<text x="533" y="627.5" font-family='"Liberation Sans", Arial, sans-serif' font-size="22" font-weight="bold" fill="#000" text-anchor="start" textLength="79.8" lengthAdjust="spacingAndGlyphs">Bovidae</text>
<text x="986" y="652.2" font-family='"Liberation Sans", Arial, sans-serif' font-size="24" font-weight="bold" fill="#000" text-anchor="start" textLength="121" lengthAdjust="spacingAndGlyphs">Phasianidae</text>
<text x="1328.2" y="582.7" font-family='"Liberation Sans", Arial, sans-serif' font-size="16" font-weight="bold" fill="#000" text-anchor="start" textLength="65.5" lengthAdjust="spacingAndGlyphs">Cervidae</text>
<text x="1380.6" y="636.3" font-family='"Liberation Sans", Arial, sans-serif' font-size="16" font-weight="bold" fill="#000" text-anchor="start" textLength="73.4" lengthAdjust="spacingAndGlyphs">Mustelidae</text>
<text x="1448" y="662.4" font-family='"Liberation Sans", Arial, sans-serif' font-size="16" font-weight="bold" fill="#000" text-anchor="start" textLength="75.8" lengthAdjust="spacingAndGlyphs">Cricetidae</text>
<text x="1565.4" y="639.2" font-family='"Liberation Sans", Arial, sans-serif' font-size="16" font-weight="bold" fill="#000" text-anchor="start" textLength="73.9" lengthAdjust="spacingAndGlyphs">Leporidae</text>
<line x1="213.5" y1="285.5" x2="196.8" y2="369.1" stroke="#111" stroke-width="2.2"/>
<polygon points="195,377.9 192.3,366.1 196.6,370.1 202.1,368.1" fill="#111"/>
<line x1="459.9" y1="456" x2="496.7" y2="474.4" stroke="#111" stroke-width="2.2"/>
<polygon points="504.7,478.4 492.6,478 497.5,474.8 497.1,469" fill="#111"/>
<line x1="521.2" y1="432.7" x2="495.2" y2="452.5" stroke="#111" stroke-width="2.2"/>
<polygon points="488,458 493.7,447.4 494.4,453.2 499.8,455.3" fill="#111"/>
<line x1="574.8" y1="489.2" x2="495.1" y2="500.5" stroke="#111" stroke-width="2.2"/>
<polygon points="486.2,501.8 496.4,495.3 494.1,500.7 497.8,505.2" fill="#111"/>
<line x1="1362.2" y1="587.6" x2="1330.2" y2="681" stroke="#111" stroke-width="2.2"/>
<polygon points="1327.3,689.5 1326.1,677.5 1329.9,681.9 1335.6,680.7" fill="#111"/>
<line x1="1372.4" y1="632.8" x2="1272.7" y2="683.9" stroke="#111" stroke-width="2.2"/>
<polygon points="1264.7,688 1272.2,678.5 1271.8,684.4 1276.8,687.4" fill="#111"/>
<line x1="1443.7" y1="664.8" x2="1410.1" y2="691.2" stroke="#111" stroke-width="2.2"/>
<polygon points="1403,696.8 1408.6,686.1 1409.3,691.9 1414.7,693.9" fill="#111"/>
<line x1="1600.9" y1="646.7" x2="1576.3" y2="689" stroke="#111" stroke-width="2.2"/>
<polygon points="1571.8,696.8 1573,684.8 1575.8,689.9 1581.6,689.8" fill="#111"/>
<text x="257.8" y="837.7" font-family='"Liberation Sans", Arial, sans-serif' font-size="12.5" font-weight="bold" fill="#000" text-anchor="start" textLength="76" lengthAdjust="spacingAndGlyphs">Ranunculaceae</text>
<text x="270" y="851.4" font-family='"Liberation Sans", Arial, sans-serif' font-size="12" font-weight="normal" fill="#000" text-anchor="start" textLength="55.2" lengthAdjust="spacingAndGlyphs">(buttercups)</text>
<line x1="299.1" y1="856.9" x2="305" y2="883.3" stroke="#111" stroke-width="2"/>
<polygon points="306.8,891.1 300.2,882.3 305.3,884.3 309,880.4" fill="#111"/>
<text x="170" y="892.2" font-family='"Liberation Sans", Arial, sans-serif' font-size="13.5" font-weight="normal" fill="#f6d2d0" text-anchor="start" textLength="80.5" lengthAdjust="spacingAndGlyphs">Papaveraceae</text>
<text transform="translate(267,899) rotate(21)" font-family='"Liberation Sans", Arial, sans-serif' font-size="15.5" font-style="italic" fill="#f6d2d0" textLength="42" lengthAdjust="spacingAndGlyphs">(poppy)</text>
<text x="285.9" y="959.6" font-family='"Liberation Sans", Arial, sans-serif' font-size="14.5" font-weight="bold" fill="#000" text-anchor="start" textLength="80.1" lengthAdjust="spacingAndGlyphs">Brassicaceae</text>
<text x="295" y="977.2" font-family='"Liberation Sans", Arial, sans-serif' font-size="14.5" font-weight="normal" fill="#000" text-anchor="start" textLength="60.4" lengthAdjust="spacingAndGlyphs">(mustards)</text>
<line x1="372" y1="956.3" x2="431.8" y2="937.9" stroke="#111" stroke-width="2.2"/>
<polygon points="440.4,935.3 431.4,943.3 432.8,937.6 428.4,933.7" fill="#111"/>
<text x="524" y="853.6" font-family='"Liberation Sans", Arial, sans-serif' font-size="29" font-weight="bold" fill="#000" text-anchor="start" textLength="101.2" lengthAdjust="spacingAndGlyphs">Poaceae</text>
<text x="536.2" y="891.1" font-family='"Liberation Sans", Arial, sans-serif' font-size="27" font-weight="normal" fill="#000" text-anchor="start" textLength="76.2" lengthAdjust="spacingAndGlyphs">(grass)</text>
<text x="650.5" y="962.9" font-family='"Liberation Sans", Arial, sans-serif' font-size="13.5" font-weight="bold" fill="#000" text-anchor="start" textLength="92.1" lengthAdjust="spacingAndGlyphs">Plantaginaceae</text>
<text x="667.1" y="980.5" font-family='"Liberation Sans", Arial, sans-serif' font-size="13" font-weight="normal" fill="#000" text-anchor="start" textLength="58.9" lengthAdjust="spacingAndGlyphs">(plantains)</text>
<line x1="696.7" y1="946.3" x2="699.3" y2="862.6" stroke="#111" stroke-width="2.2"/>
<polygon points="699.6,853.6 704.3,864.8 699.3,861.6 694.3,864.4" fill="#111"/>
<text transform="translate(880.3,944.1) rotate(-3)" font-family='"Liberation Sans", Arial, sans-serif' font-size="15" font-weight="bold" fill="#eedcc8" textLength="63" lengthAdjust="spacingAndGlyphs">Fabaceae</text>
<text transform="translate(882.5,963.5) rotate(-3)" font-family='"Liberation Sans", Arial, sans-serif' font-size="15" fill="#eedcc8" textLength="61.9" lengthAdjust="spacingAndGlyphs">(legumes)</text>
<text x="866.6" y="996" font-family='"Liberation Sans", Arial, sans-serif' font-size="13" font-weight="bold" fill="#f6d6d6" text-anchor="start" textLength="80" lengthAdjust="spacingAndGlyphs">Polemoniaceae</text>
<text x="888.5" y="1013.7" font-family='"Liberation Sans", Arial, sans-serif' font-size="13.5" font-weight="normal" fill="#f6d6d6" text-anchor="start" textLength="38.6" lengthAdjust="spacingAndGlyphs">(phlox)</text>
<text x="1003.5" y="936.4" font-family='"Liberation Sans", Arial, sans-serif' font-size="14.5" font-weight="bold" fill="#000" text-anchor="start" textLength="83.9" lengthAdjust="spacingAndGlyphs">Cyperaceae</text>
<text x="1016.1" y="957.4" font-family='"Liberation Sans", Arial, sans-serif' font-size="15" font-weight="normal" fill="#000" text-anchor="start" textLength="58.5" lengthAdjust="spacingAndGlyphs">(sedges)</text>
<line x1="1078.6" y1="948.8" x2="1108" y2="967.4" stroke="#111" stroke-width="2.2"/>
<polygon points="1115.6,972.2 1103.6,970.5 1108.8,967.9 1109,962.1" fill="#111"/>
<text x="531.8" y="1171" font-family='"Liberation Sans", Arial, sans-serif' font-size="27.5" font-weight="bold" fill="#000" text-anchor="start" textLength="134.6" lengthAdjust="spacingAndGlyphs">Asteraceae</text>
<text x="562" y="1208.2" font-family='"Liberation Sans", Arial, sans-serif' font-size="27" font-weight="normal" fill="#000" text-anchor="start" textLength="75" lengthAdjust="spacingAndGlyphs">(daisy)</text>
<text transform="translate(186,1232) rotate(-45)" font-family='"Liberation Sans", Arial, sans-serif' font-size="13" font-weight="bold" fill="#000" textLength="74" lengthAdjust="spacingAndGlyphs">Boraginaceae</text>
<text transform="translate(262,1180) rotate(20)" font-family='"Liberation Sans", Arial, sans-serif' font-size="11.5" font-style="italic" fill="#000" textLength="40" lengthAdjust="spacingAndGlyphs">(borages)</text>
<text x="224.1" y="1363.3" font-family='"Liberation Sans", Arial, sans-serif' font-size="13" font-weight="bold" fill="#000" text-anchor="start" textLength="51.3" lengthAdjust="spacingAndGlyphs">Apiaceae</text>
<text x="764.6" y="1365.9" font-family='"Liberation Sans", Arial, sans-serif' font-size="12.5" font-weight="normal" fill="#000" text-anchor="start" textLength="56.9" lengthAdjust="spacingAndGlyphs">(umbellifers)</text>
<text x="1265.9" y="1092.3" font-family='"Liberation Sans", Arial, sans-serif' font-size="28" font-weight="bold" fill="#000" text-anchor="start" textLength="128.2" lengthAdjust="spacingAndGlyphs">Salicaceae</text>
<text x="1289" y="1128.7" font-family='"Liberation Sans", Arial, sans-serif' font-size="27" font-weight="normal" fill="#000" text-anchor="start" textLength="82.8" lengthAdjust="spacingAndGlyphs">(willow)</text>
<text x="1237" y="1364.6" font-family='"Liberation Sans", Arial, sans-serif' font-size="12.5" font-weight="normal" fill="#000" text-anchor="start" textLength="48" lengthAdjust="spacingAndGlyphs">(horsetail)</text>
<text transform="translate(1289.5,1314.5) rotate(-8)" font-family='"Liberation Sans", Arial, sans-serif' font-size="15" font-weight="bold" fill="#000" textLength="57.5" lengthAdjust="spacingAndGlyphs">Ericaceae</text>
<text transform="translate(1351,1306.5) rotate(-8)" font-family='"Liberation Sans", Arial, sans-serif' font-size="15" fill="#000" textLength="46.5" lengthAdjust="spacingAndGlyphs">(heaths)</text>
<text x="1376" y="1360.2" font-family='"Liberation Sans", Arial, sans-serif' font-size="15.5" font-weight="bold" fill="#000" text-anchor="start" textLength="80.3" lengthAdjust="spacingAndGlyphs">Equisetaceae</text>
<text x="1479.5" y="1112.8" font-family='"Liberation Sans", Arial, sans-serif' font-size="14.5" font-weight="normal" fill="#f6d8dc" text-anchor="start" textLength="56.4" lengthAdjust="spacingAndGlyphs">Rosaceae</text>
<text x="1491.8" y="1131.3" font-family='"Liberation Sans", Arial, sans-serif' font-size="14.5" font-weight="normal" fill="#f6d8dc" text-anchor="start" textLength="32.6" lengthAdjust="spacingAndGlyphs">(rose)</text>
<text transform="translate(1558,1223) rotate(-40)" font-family='"Liberation Sans", Arial, sans-serif' font-size="26" font-weight="bold" fill="#000" textLength="112" lengthAdjust="spacingAndGlyphs">Betulaceae</text>
<text x="1527" y="1255.6" font-family='"Liberation Sans", Arial, sans-serif' font-size="17" font-weight="normal" fill="#000" text-anchor="start" textLength="44.8" lengthAdjust="spacingAndGlyphs">(birch)</text>
<text x="1611.5" y="1292.8" font-family='"Liberation Sans", Arial, sans-serif' font-size="27" font-weight="bold" fill="#000" text-anchor="start" textLength="98.8" lengthAdjust="spacingAndGlyphs">Pinaceae</text>
<text x="1618.7" y="1327.4" font-family='"Liberation Sans", Arial, sans-serif' font-size="26" font-weight="normal" fill="#000" text-anchor="start" textLength="83.9" lengthAdjust="spacingAndGlyphs">(spruce)</text>
<text x="20.6" y="1393.5" font-family='"DejaVu Sans", Verdana, sans-serif' font-size="15" font-weight="bold" fill="#000" text-anchor="start" textLength="108" lengthAdjust="spacingAndGlyphs">PHP Sample</text>
<text x="6" y="1425" font-family='"DejaVu Sans", Verdana, sans-serif' font-size="15" font-weight="bold" fill="#000" text-anchor="start" textLength="73.8" lengthAdjust="spacingAndGlyphs">cal yr BP</text>
<text x="0.9" y="1443" font-family='"DejaVu Sans", Verdana, sans-serif' font-size="15" font-weight="bold" fill="#000" text-anchor="start" textLength="84.3" lengthAdjust="spacingAndGlyphs">(2σ range)</text>
<text x="90" y="1422.4" font-family='"DejaVu Sans", Verdana, sans-serif' font-size="18" font-weight="bold" fill="#000" text-anchor="start" textLength="38.3" lengthAdjust="spacingAndGlyphs">max</text>
<text x="94.9" y="1448" font-family='"DejaVu Sans", Verdana, sans-serif' font-size="18" font-weight="bold" fill="#000" text-anchor="start" textLength="33.4" lengthAdjust="spacingAndGlyphs">min</text>
<text x="164" y="1395.7" font-family='"DejaVu Sans", Verdana, sans-serif' font-size="19" font-weight="bold" fill="#e0302e" text-anchor="middle" textLength="13.2" lengthAdjust="spacingAndGlyphs">1</text>
<text x="242.9" y="1395.7" font-family='"DejaVu Sans", Verdana, sans-serif' font-size="19" font-weight="bold" fill="#b4952a" text-anchor="middle" textLength="26.4" lengthAdjust="spacingAndGlyphs">15</text>
<text x="321.1" y="1395.7" font-family='"DejaVu Sans", Verdana, sans-serif' font-size="19" font-weight="bold" fill="#b4952a" text-anchor="middle" textLength="26.4" lengthAdjust="spacingAndGlyphs">13</text>
<text x="399.7" y="1395.7" font-family='"DejaVu Sans", Verdana, sans-serif' font-size="19" font-weight="bold" fill="#b4952a" text-anchor="middle" textLength="26.4" lengthAdjust="spacingAndGlyphs">14</text>
<text x="477.2" y="1395.7" font-family='"DejaVu Sans", Verdana, sans-serif' font-size="19" font-weight="bold" fill="#2a84c0" text-anchor="middle" textLength="26.4" lengthAdjust="spacingAndGlyphs">25</text>
<text x="556.1" y="1395.7" font-family='"DejaVu Sans", Verdana, sans-serif' font-size="19" font-weight="bold" fill="#2a84c0" text-anchor="middle" textLength="26.4" lengthAdjust="spacingAndGlyphs">24</text>
<text x="634" y="1395.7" font-family='"DejaVu Sans", Verdana, sans-serif' font-size="19" font-weight="bold" fill="#cc33ee" text-anchor="middle" textLength="13.2" lengthAdjust="spacingAndGlyphs">9</text>
<text x="712.2" y="1395.7" font-family='"DejaVu Sans", Verdana, sans-serif' font-size="19" font-weight="bold" fill="#2a84c0" text-anchor="middle" textLength="26.4" lengthAdjust="spacingAndGlyphs">23</text>
<text x="795.9" y="1395.7" font-family='"DejaVu Sans", Verdana, sans-serif' font-size="19" font-weight="bold" fill="#cc33ee" text-anchor="middle" textLength="13.2" lengthAdjust="spacingAndGlyphs">8</text>
<text x="869.7" y="1395.7" font-family='"DejaVu Sans", Verdana, sans-serif' font-size="19" font-weight="bold" fill="#cc33ee" text-anchor="middle" textLength="13.2" lengthAdjust="spacingAndGlyphs">7</text>
<text x="948.6" y="1395.7" font-family='"DejaVu Sans", Verdana, sans-serif' font-size="19" font-weight="bold" fill="#cc33ee" text-anchor="middle" textLength="13.2" lengthAdjust="spacingAndGlyphs">5</text>
<text x="1028.2" y="1395.7" font-family='"DejaVu Sans", Verdana, sans-serif' font-size="19" font-weight="bold" fill="#cc33ee" text-anchor="middle" textLength="13.2" lengthAdjust="spacingAndGlyphs">6</text>
<text x="1107" y="1395.7" font-family='"DejaVu Sans", Verdana, sans-serif' font-size="19" font-weight="bold" fill="#cc33ee" text-anchor="middle" textLength="13.2" lengthAdjust="spacingAndGlyphs">4</text>
<text x="1183.2" y="1395.7" font-family='"DejaVu Sans", Verdana, sans-serif' font-size="19" font-weight="bold" fill="#2a84c0" text-anchor="middle" textLength="26.4" lengthAdjust="spacingAndGlyphs">22</text>
<text x="1261.4" y="1395.7" font-family='"DejaVu Sans", Verdana, sans-serif' font-size="19" font-weight="bold" fill="#b4952a" text-anchor="middle" textLength="26.4" lengthAdjust="spacingAndGlyphs">12</text>
<text x="1339.4" y="1395.7" font-family='"DejaVu Sans", Verdana, sans-serif' font-size="19" font-weight="bold" fill="#b4952a" text-anchor="middle" textLength="26.4" lengthAdjust="spacingAndGlyphs">11</text>
<text x="1419" y="1395.7" font-family='"DejaVu Sans", Verdana, sans-serif' font-size="19" font-weight="bold" fill="#cc33ee" text-anchor="middle" textLength="13.2" lengthAdjust="spacingAndGlyphs">3</text>
<text x="1499.6" y="1395.7" font-family='"DejaVu Sans", Verdana, sans-serif' font-size="19" font-weight="bold" fill="#cc33ee" text-anchor="middle" textLength="13.2" lengthAdjust="spacingAndGlyphs">2</text>
<text x="1571.6" y="1395.7" font-family='"DejaVu Sans", Verdana, sans-serif' font-size="19" font-weight="bold" fill="#2a84c0" text-anchor="middle" textLength="26.4" lengthAdjust="spacingAndGlyphs">21</text>
<text x="1652.6" y="1395.7" font-family='"DejaVu Sans", Verdana, sans-serif' font-size="19" font-weight="bold" fill="#2a84c0" text-anchor="middle" textLength="26.4" lengthAdjust="spacingAndGlyphs">20</text>
<text x="1726.4" y="1395.7" font-family='"DejaVu Sans", Verdana, sans-serif' font-size="19" font-weight="bold" fill="#2a84c0" text-anchor="middle" textLength="26.4" lengthAdjust="spacingAndGlyphs">19</text>
<text x="242.2" y="1424.2" font-family='"Liberation Sans", Arial, sans-serif' font-size="20.5" font-weight="normal" fill="#000" text-anchor="middle" textLength="55" lengthAdjust="spacingAndGlyphs">22,424</text>
<text x="242.2" y="1450.6" font-family='"Liberation Sans", Arial, sans-serif' font-size="20.5" font-weight="normal" fill="#000" text-anchor="middle" textLength="55" lengthAdjust="spacingAndGlyphs">20,568</text>
<text x="320.5" y="1424.2" font-family='"Liberation Sans", Arial, sans-serif' font-size="20.5" font-weight="normal" fill="#000" text-anchor="middle" textLength="55" lengthAdjust="spacingAndGlyphs">20,955</text>
<text x="320.5" y="1450.6" font-family='"Liberation Sans", Arial, sans-serif' font-size="20.5" font-weight="normal" fill="#000" text-anchor="middle" textLength="55" lengthAdjust="spacingAndGlyphs">20,554</text>
<text x="398.7" y="1424.2" font-family='"Liberation Sans", Arial, sans-serif' font-size="20.5" font-weight="normal" fill="#000" text-anchor="middle" textLength="55" lengthAdjust="spacingAndGlyphs">20,320</text>
<text x="398.7" y="1450.6" font-family='"Liberation Sans", Arial, sans-serif' font-size="20.5" font-weight="normal" fill="#000" text-anchor="middle" textLength="55" lengthAdjust="spacingAndGlyphs">19,070</text>
<text x="477.5" y="1424.2" font-family='"Liberation Sans", Arial, sans-serif' font-size="20.5" font-weight="normal" fill="#000" text-anchor="middle" textLength="55" lengthAdjust="spacingAndGlyphs">17,810</text>
<text x="477.5" y="1450.6" font-family='"Liberation Sans", Arial, sans-serif' font-size="20.5" font-weight="normal" fill="#000" text-anchor="middle" textLength="55" lengthAdjust="spacingAndGlyphs">15,469</text>
<text x="556" y="1424.2" font-family='"Liberation Sans", Arial, sans-serif' font-size="20.5" font-weight="normal" fill="#000" text-anchor="middle" textLength="55" lengthAdjust="spacingAndGlyphs">16,862</text>
<text x="556" y="1450.6" font-family='"Liberation Sans", Arial, sans-serif' font-size="20.5" font-weight="normal" fill="#000" text-anchor="middle" textLength="55" lengthAdjust="spacingAndGlyphs">14,720</text>
<text x="634.5" y="1424.2" font-family='"Liberation Sans", Arial, sans-serif' font-size="20.5" font-weight="normal" fill="#000" text-anchor="middle" textLength="55" lengthAdjust="spacingAndGlyphs">15,651</text>
<text x="634.5" y="1450.6" font-family='"Liberation Sans", Arial, sans-serif' font-size="20.5" font-weight="normal" fill="#000" text-anchor="middle" textLength="55" lengthAdjust="spacingAndGlyphs">15,339</text>
<text x="712.8" y="1424.2" font-family='"Liberation Sans", Arial, sans-serif' font-size="20.5" font-weight="normal" fill="#000" text-anchor="middle" textLength="55" lengthAdjust="spacingAndGlyphs">15,958</text>
<text x="712.8" y="1450.6" font-family='"Liberation Sans", Arial, sans-serif' font-size="20.5" font-weight="normal" fill="#000" text-anchor="middle" textLength="55" lengthAdjust="spacingAndGlyphs">13,988</text>
<text x="794.2" y="1424.2" font-family='"Liberation Sans", Arial, sans-serif' font-size="20.5" font-weight="normal" fill="#000" text-anchor="middle" textLength="55" lengthAdjust="spacingAndGlyphs">14,897</text>
<text x="794.2" y="1450.6" font-family='"Liberation Sans", Arial, sans-serif' font-size="20.5" font-weight="normal" fill="#000" text-anchor="middle" textLength="55" lengthAdjust="spacingAndGlyphs">14,595</text>
<text x="868" y="1424.2" font-family='"Liberation Sans", Arial, sans-serif' font-size="20.5" font-weight="normal" fill="#000" text-anchor="middle" textLength="55" lengthAdjust="spacingAndGlyphs">14,245</text>
<text x="868" y="1450.6" font-family='"Liberation Sans", Arial, sans-serif' font-size="20.5" font-weight="normal" fill="#000" text-anchor="middle" textLength="55" lengthAdjust="spacingAndGlyphs">13,975</text>
<text x="948.6" y="1424.2" font-family='"Liberation Sans", Arial, sans-serif' font-size="20.5" font-weight="normal" fill="#000" text-anchor="middle" textLength="55" lengthAdjust="spacingAndGlyphs">13,596</text>
<text x="948.6" y="1450.6" font-family='"Liberation Sans", Arial, sans-serif' font-size="20.5" font-weight="normal" fill="#000" text-anchor="middle" textLength="55" lengthAdjust="spacingAndGlyphs">13,401</text>
<text x="1027.5" y="1424.2" font-family='"Liberation Sans", Arial, sans-serif' font-size="20.5" font-weight="normal" fill="#000" text-anchor="middle" textLength="55" lengthAdjust="spacingAndGlyphs">13,393</text>
<text x="1027.5" y="1450.6" font-family='"Liberation Sans", Arial, sans-serif' font-size="20.5" font-weight="normal" fill="#000" text-anchor="middle" textLength="55" lengthAdjust="spacingAndGlyphs">13,277</text>
<text x="1102" y="1424.2" font-family='"Liberation Sans", Arial, sans-serif' font-size="20.5" font-weight="normal" fill="#000" text-anchor="middle" textLength="55" lengthAdjust="spacingAndGlyphs">13,250</text>
<text x="1102" y="1450.6" font-family='"Liberation Sans", Arial, sans-serif' font-size="20.5" font-weight="normal" fill="#000" text-anchor="middle" textLength="55" lengthAdjust="spacingAndGlyphs">13,119</text>
<text x="1180.8" y="1424.2" font-family='"Liberation Sans", Arial, sans-serif' font-size="20.5" font-weight="normal" fill="#000" text-anchor="middle" textLength="55" lengthAdjust="spacingAndGlyphs">12,989</text>
<text x="1180.8" y="1450.6" font-family='"Liberation Sans", Arial, sans-serif' font-size="20.5" font-weight="normal" fill="#000" text-anchor="middle" textLength="55" lengthAdjust="spacingAndGlyphs">12,758</text>
<text x="1258" y="1424.2" font-family='"Liberation Sans", Arial, sans-serif' font-size="20.5" font-weight="normal" fill="#000" text-anchor="middle" textLength="55" lengthAdjust="spacingAndGlyphs">10,181</text>
<text x="1258" y="1450.6" font-family='"Liberation Sans", Arial, sans-serif' font-size="20.5" font-weight="normal" fill="#000" text-anchor="middle" textLength="45.5" lengthAdjust="spacingAndGlyphs">9,909</text>
<text x="1336" y="1424.2" font-family='"Liberation Sans", Arial, sans-serif' font-size="20.5" font-weight="normal" fill="#000" text-anchor="middle" textLength="45.5" lengthAdjust="spacingAndGlyphs">9,869</text>
<text x="1336" y="1450.6" font-family='"Liberation Sans", Arial, sans-serif' font-size="20.5" font-weight="normal" fill="#000" text-anchor="middle" textLength="45.5" lengthAdjust="spacingAndGlyphs">8,604</text>
<text x="1413.8" y="1424.2" font-family='"Liberation Sans", Arial, sans-serif' font-size="20.5" font-weight="normal" fill="#000" text-anchor="middle" textLength="45.5" lengthAdjust="spacingAndGlyphs">9,485</text>
<text x="1413.8" y="1450.6" font-family='"Liberation Sans", Arial, sans-serif' font-size="20.5" font-weight="normal" fill="#000" text-anchor="middle" textLength="45.5" lengthAdjust="spacingAndGlyphs">8,950</text>
<text x="1492" y="1424.2" font-family='"Liberation Sans", Arial, sans-serif' font-size="20.5" font-weight="normal" fill="#000" text-anchor="middle" textLength="45.5" lengthAdjust="spacingAndGlyphs">8,919</text>
<text x="1492" y="1450.6" font-family='"Liberation Sans", Arial, sans-serif' font-size="20.5" font-weight="normal" fill="#000" text-anchor="middle" textLength="45.5" lengthAdjust="spacingAndGlyphs">8,637</text>
<text x="1570.3" y="1424.2" font-family='"Liberation Sans", Arial, sans-serif' font-size="20.5" font-weight="normal" fill="#000" text-anchor="middle" textLength="45.5" lengthAdjust="spacingAndGlyphs">5,992</text>
<text x="1570.3" y="1450.6" font-family='"Liberation Sans", Arial, sans-serif' font-size="20.5" font-weight="normal" fill="#000" text-anchor="middle" textLength="45.5" lengthAdjust="spacingAndGlyphs">5,744</text>
<text x="1648.8" y="1424.2" font-family='"Liberation Sans", Arial, sans-serif' font-size="20.5" font-weight="normal" fill="#000" text-anchor="middle" textLength="45.5" lengthAdjust="spacingAndGlyphs">5,929</text>
<text x="1648.8" y="1450.6" font-family='"Liberation Sans", Arial, sans-serif' font-size="20.5" font-weight="normal" fill="#000" text-anchor="middle" textLength="45.5" lengthAdjust="spacingAndGlyphs">4,590</text>
<text x="1727" y="1424.2" font-family='"Liberation Sans", Arial, sans-serif' font-size="20.5" font-weight="normal" fill="#000" text-anchor="middle" textLength="45.5" lengthAdjust="spacingAndGlyphs">3,899</text>
<text x="1727" y="1450.6" font-family='"Liberation Sans", Arial, sans-serif' font-size="20.5" font-weight="normal" fill="#000" text-anchor="middle" textLength="45.5" lengthAdjust="spacingAndGlyphs">3,727</text>
<text x="164.5" y="1437" font-family='"Liberation Sans", Arial, sans-serif' font-size="20.5" font-weight="normal" fill="#000" text-anchor="middle" textLength="54.6" lengthAdjust="spacingAndGlyphs">30,000</text>
<rect x="116.5" y="1472" width="392.5" height="66.2" fill="none" stroke="#000" stroke-width="1.8"/>
<text x="184" y="1500.5" font-family='"DejaVu Sans", Verdana, sans-serif' font-size="17" font-weight="bold" fill="#b4952a" text-anchor="middle" textLength="55" lengthAdjust="spacingAndGlyphs">Upper</text>
<text x="184" y="1520.4" font-family='"DejaVu Sans", Verdana, sans-serif' font-size="17" font-weight="bold" fill="#b4952a" text-anchor="middle" textLength="107" lengthAdjust="spacingAndGlyphs">Goldbottom</text>
<text x="285.2" y="1500.5" font-family='"DejaVu Sans", Verdana, sans-serif' font-size="17" font-weight="bold" fill="#e0302e" text-anchor="middle" textLength="43.5" lengthAdjust="spacingAndGlyphs">Bear</text>
<text x="285.2" y="1520.4" font-family='"DejaVu Sans", Verdana, sans-serif' font-size="17" font-weight="bold" fill="#e0302e" text-anchor="middle" textLength="54.5" lengthAdjust="spacingAndGlyphs">Creek</text>
<text x="369.3" y="1500.5" font-family='"DejaVu Sans", Verdana, sans-serif' font-size="17" font-weight="bold" fill="#2a84c0" text-anchor="middle" textLength="55" lengthAdjust="spacingAndGlyphs">Upper</text>
<text x="369.3" y="1520.4" font-family='"DejaVu Sans", Verdana, sans-serif' font-size="17" font-weight="bold" fill="#2a84c0" text-anchor="middle" textLength="62" lengthAdjust="spacingAndGlyphs">Quartz</text>
<text x="464.7" y="1500.5" font-family='"DejaVu Sans", Verdana, sans-serif' font-size="17" font-weight="bold" fill="#cc33ee" text-anchor="middle" textLength="55" lengthAdjust="spacingAndGlyphs">Lucky</text>
<text x="464.7" y="1520.4" font-family='"DejaVu Sans", Verdana, sans-serif' font-size="17" font-weight="bold" fill="#cc33ee" text-anchor="middle" textLength="62" lengthAdjust="spacingAndGlyphs">Lady II</text>
<text x="626.3" y="1501.2" font-family='"Liberation Sans", Arial, sans-serif' font-size="30" font-weight="900" fill="#000" text-anchor="start" textLength="642.5" lengthAdjust="spacingAndGlyphs" stroke="#000" stroke-width="1.1">SedaDNA samples and calendar ages</text>
<text x="643.5" y="1532" font-family='"Liberation Sans", Arial, sans-serif' font-size="22" font-weight="normal" fill="#000" text-anchor="start" textLength="612" lengthAdjust="spacingAndGlyphs">Intra-site order by height; Inter-site order by median calibrated age</text>
<text x="1464.4" y="1513.9" font-family='"Liberation Sans", Arial, sans-serif' font-size="19.5" fill="#000" textLength="245.9" lengthAdjust="spacingAndGlyphs">Reads from <tspan font-style="italic">BLASTn</tspan>: 6,250,268</text>
<path transform="translate(172,228) scale(0.04000)" d="M150,835 C220,800 270,760 295,690 L285,600 C280,470 330,400 420,330 C520,240 650,190 780,175 L840,150 C940,180 1050,220 1200,320 C1350,370 1450,430 1550,560 C1610,640 1630,730 1610,800 C1590,840 1520,850 1480,850 L1260,830 C1200,800 1100,790 1050,810 L1100,880 L1110,905 L1030,905 L960,840 L920,760 C880,740 830,715 780,705 C700,715 600,715 550,730 L560,800 L540,870 L520,895 L470,890 L385,870 L340,760 L320,720 C290,760 240,810 150,835 Z" fill="#000"/>
<g transform="translate(245,575) scale(0.07433)"><path d="M160,630 C110,660 85,740 160,798 L168,782 C135,740 138,685 168,655 Z" fill="#000"/><path d="M190,810 C168,760 160,700 162,620 C163,560 168,490 180,450 C240,390 330,350 420,325 L620,300 C680,220 760,195 900,212 C930,130 1010,95 1090,100 C1150,105 1175,140 1170,190 C1240,280 1290,380 1295,500 L1295,660 C1300,720 1340,780 1400,790 C1450,790 1490,760 1500,720 L1530,760 C1510,800 1460,850 1390,850 C1290,850 1230,790 1200,720 C1170,650 1150,580 1120,550 L1070,500 C1050,560 1050,640 1040,700 L990,770 L940,800 C960,880 1010,960 1040,1050 L1030,1150 L1070,1220 L900,1220 L910,1140 L880,1050 C850,1000 820,960 790,930 C760,960 750,1050 750,1130 L790,1200 L650,1205 L640,1140 L620,1050 L630,920 C560,950 500,950 440,940 L430,1040 L440,1150 L470,1220 L300,1220 L290,1150 L285,1060 L250,1070 L240,1150 L250,1200 L95,1200 L120,1160 L120,1040 C150,960 180,900 190,820 Z" fill="#000"/><path d="M1290,595 C1400,590 1520,520 1515,430 C1510,380 1480,355 1440,350" fill="none" stroke="#000" stroke-width="30"/><path d="M1290,650 C1450,640 1600,560 1605,450 C1608,390 1570,345 1510,340" fill="none" stroke="#000" stroke-width="32"/></g>
<path transform="translate(430,600) scale(0.05718)" d="M150,1060 C100,900 110,750 140,650 C170,520 200,450 260,390 C310,340 370,330 450,345 C600,370 700,400 820,420 C900,340 1000,270 1100,220 C1200,180 1260,170 1320,160 L1380,200 L1390,230 L1370,270 C1440,350 1500,420 1550,500 C1560,560 1540,600 1500,605 C1460,600 1420,570 1380,540 L1270,480 C1200,550 1130,620 1100,700 C1060,750 1030,790 1000,830 C980,900 960,1000 960,1100 L1000,1250 L1020,1280 L940,1280 L900,1200 L890,1100 L900,950 L900,800 C820,820 700,820 600,790 C560,770 520,740 480,720 C420,750 360,800 320,870 C300,950 300,1050 320,1150 L390,1230 L330,1240 L290,1180 L260,1000 L250,980 L240,1100 L240,1200 L290,1290 L220,1290 L190,1200 L190,1000 L200,880 L220,750 L210,680 C180,750 170,900 150,1060 Z" fill="#000"/>
<path transform="translate(520,525) scale(0.06575)" d="M85,800 L180,660 C170,560 170,470 190,420 C230,370 330,350 560,310 C620,260 680,180 740,145 C850,120 1000,125 1150,145 C1280,170 1360,230 1420,280 L1480,210 L1440,290 L1540,380 C1580,360 1620,330 1630,230 C1660,260 1660,330 1620,380 L1580,430 C1580,500 1550,560 1560,650 L1530,790 L1450,810 L1390,890 L1360,870 C1300,890 1200,930 1100,940 L1020,990 L1020,1150 L1040,1200 L990,1200 L960,1100 L950,1200 L900,1210 L900,1100 L880,1000 C860,920 850,880 820,860 C700,850 600,860 560,870 L550,910 L530,900 L510,850 C480,830 440,800 410,790 C370,830 340,880 330,950 L340,1150 L410,1200 L340,1210 L310,1150 L290,1000 L280,830 C230,900 180,950 160,1050 L160,1150 L210,1190 L150,1200 L125,1120 L140,900 L180,720 L100,800 Z" fill="#000"/>
<g transform="translate(395,368) scale(0.04415)"><path d="M180,850 C200,780 260,720 400,690 C550,690 800,740 1000,780 C1060,760 1100,720 1130,680 L1140,620 L1200,600 L1280,650 L1400,760 C1430,800 1410,830 1370,830 L1280,830 C1250,900 1240,1000 1220,1040 C1150,1080 1050,1090 940,1100 L920,1200 L960,1400 L1030,1460 L960,1470 L920,1420 L870,1200 L850,1150 L820,1300 L800,1440 L830,1480 L760,1480 L770,1350 L800,1100 C700,1080 600,1070 520,1050 L420,1150 L350,1200 L370,1300 L420,1440 L480,1470 L400,1480 L350,1420 L310,1280 L300,1180 L350,1100 L330,1080 L200,1170 L140,1300 L120,1420 L180,1460 L100,1460 L110,1300 L140,1150 L250,1000 L230,900 L190,860 Z" fill="#000"/><g fill="none" stroke="#000" stroke-width="38" stroke-linecap="round"><path d="M1150,600 C1000,590 900,560 880,450 C860,350 850,250 830,130"/><path d="M860,250 L910,125"/><path d="M880,215 L975,125"/><path d="M920,200 L1045,125"/><path d="M900,555 L830,585"/><path d="M1160,570 C1060,470 1010,380 1040,280 C1060,230 1110,210 1160,200 L1230,235 L1300,185"/><path d="M1050,260 L1050,150"/><path d="M1120,215 L1165,125"/><path d="M1170,205 L1235,125"/><path d="M1180,560 L1165,310"/><path d="M1175,430 L1215,330"/><path d="M1180,470 L1270,330"/><path d="M1230,570 L1440,470"/><path d="M1380,500 L1360,360"/><path d="M1420,480 L1410,360"/><path d="M1440,470 L1465,400"/></g><path d="M1270,620 L1430,560 L1500,510 L1515,600 L1490,700 L1420,720 Z" fill="#000"/></g>
<path transform="translate(520,358) scale(0.03897)" d="M260,790 C340,820 390,900 360,1000 C340,1100 350,1200 400,1260 C400,1150 420,1060 500,1010 C560,960 580,880 640,800 C700,760 760,700 820,620 C840,560 830,530 840,500 C880,450 880,380 890,330 C930,290 950,220 985,175 C1020,190 1040,220 1050,270 L1090,245 L1100,380 C1140,450 1160,520 1170,650 L1190,830 C1170,900 1120,960 1110,1050 L1140,1200 L1170,1310 L1270,1340 L1280,1380 L1150,1400 L1050,1390 L1020,1300 L960,1150 L920,1060 L880,1080 C880,1150 830,1220 770,1280 L760,1340 L920,1360 L960,1400 L900,1410 L650,1400 C550,1390 450,1370 380,1340 C300,1300 250,1250 220,1150 C200,1050 210,960 250,920 C260,880 250,830 260,790 Z" fill="#000"/>
<path transform="translate(1005,548) scale(0.05456)" d="M110,1120 L250,1080 L370,1050 C450,980 550,900 700,780 C800,700 900,660 970,610 C1010,560 1020,480 1000,400 C990,300 1000,200 1060,100 C1120,80 1200,100 1240,160 L1290,190 L1230,210 C1170,250 1150,330 1170,400 C1220,500 1250,600 1260,750 C1270,900 1230,1050 1150,1130 C1080,1180 1040,1230 1030,1300 L1050,1400 L1220,1450 L1220,1480 L700,1480 L830,1430 L810,1300 L800,1250 C700,1250 600,1260 450,1280 L420,1230 L350,1210 L210,1200 L240,1170 L120,1160 Z" fill="#000"/>
<path transform="translate(1385,584) scale(0.03431)" d="M130,1100 C100,1000 120,900 200,820 C260,720 300,620 360,580 C420,520 470,450 520,400 C600,330 700,300 850,300 C1000,300 1150,340 1260,360 L1300,300 L1310,240 L1370,230 L1500,180 L1540,200 L1560,240 L1620,280 C1620,340 1600,380 1530,420 C1450,520 1360,600 1280,680 C1260,750 1270,800 1320,850 L1340,900 L1250,910 C1180,880 1150,800 1130,700 L850,680 C830,750 820,800 870,830 L950,850 L960,890 L870,910 L770,900 L690,880 L600,890 C550,860 520,800 520,730 L520,680 C480,750 420,850 350,950 C290,1030 220,1100 130,1100 Z" fill="#000"/>
<path transform="translate(1452,614) scale(0.03431)" d="M100,910 C200,870 350,880 450,890 C550,870 600,820 610,760 C580,650 580,500 640,400 C700,280 800,190 940,180 C1080,180 1200,240 1290,330 C1400,330 1480,380 1540,460 C1600,520 1620,600 1580,660 C1530,710 1470,720 1420,740 L1400,840 L1490,880 L1480,900 L1320,900 L1300,830 L1200,850 L1230,910 L1100,920 L880,900 L850,830 C780,800 700,790 640,800 C600,860 530,910 450,920 C330,920 200,910 100,910 Z" fill="#000"/>
<path transform="translate(1580,580) scale(0.03248)" d="M300,1340 C220,1200 200,1000 240,850 C300,750 450,650 600,610 C700,590 800,600 880,580 C920,540 940,500 930,460 L850,200 L870,160 C950,220 1000,330 1030,420 L1060,400 C1100,300 1180,200 1250,150 L1260,200 C1230,300 1190,380 1150,450 C1180,520 1190,600 1190,700 C1220,800 1220,900 1190,1000 C1150,1070 1080,1110 1030,1150 L1050,1300 L1160,1360 L1150,1380 L1010,1370 L900,1370 L860,1310 L780,1290 L800,1400 L700,1410 L450,1390 Z" fill="#000"/>
<path transform="translate(1300,495) scale(0.07435)" d="M185,560 C190,500 230,460 300,445 C400,435 460,430 530,395 L590,345 L600,330 L560,320 L470,310 L380,270 L335,235 L355,205 L372,232 L400,195 L420,235 L442,212 L465,245 L515,205 L530,258 L555,212 L575,262 L600,222 L620,268 L642,238 L660,218 L670,265 L700,228 L715,268 L735,238 L758,240 L745,290 L700,320 L672,332 C700,370 745,405 755,432 C750,452 720,452 700,442 L672,442 C665,480 645,515 622,512 C605,570 590,620 575,660 L555,710 L545,800 L560,870 L578,882 L538,882 L520,800 L520,710 L510,692 L495,760 L500,860 L512,876 L478,872 L475,800 L480,700 L490,640 C430,630 360,630 300,650 L255,700 L245,760 L262,830 L295,860 L270,872 L240,842 L225,772 L215,722 L200,742 L195,802 L207,862 L226,882 L186,876 L176,822 L180,722 L215,642 C205,610 190,590 185,560 Z" fill="#000"/>
<g transform="translate(1300,495) scale(0.07435)"><path d="M925,590 L942,555 C955,535 975,525 1000,518 C1080,508 1180,505 1260,490 L1320,470 C1345,450 1358,430 1350,405 L1325,385 L1345,372 L1372,382 L1420,380 L1448,372 L1478,382 L1455,405 C1445,440 1442,480 1432,520 C1420,570 1400,600 1345,650 L1330,700 L1340,800 L1362,862 L1340,866 L1320,800 L1302,700 L1290,680 L1262,730 L1232,800 L1242,862 L1215,862 L1220,790 L1250,680 C1200,680 1100,680 1060,670 L1042,700 L1082,800 L1107,855 L1087,862 L1040,790 L1000,730 L962,760 L952,840 L967,870 L937,866 L930,780 L937,700 L962,660 L958,620 Z" fill="#000"/><g fill="none" stroke="#000" stroke-width="24" stroke-linecap="round" stroke-linejoin="round"><path d="M1355,385 C1320,350 1270,320 1245,285 C1225,250 1218,220 1218,180"/><path d="M1232,255 L1262,192"/><path d="M1262,298 L1285,248"/><path d="M1305,335 L1345,305 L1352,330"/><path d="M1420,385 C1455,345 1500,320 1530,290 C1555,260 1562,225 1560,180"/><path d="M1545,265 L1505,180"/><path d="M1445,355 L1448,292"/><path d="M1555,230 L1530,195"/></g></g>
<g transform="translate(1255,580) scale(0.05196)"><path d="M460,800 L460,500 A225,225 0 0 1 910,500 L910,1360 Q910,1382 888,1382 L472,1382 Q452,1382 447,1362 L320,855 L345,832 L392,822 Z" fill="#000"/><circle cx="688" cy="492" r="178" fill="#fff"/><rect x="598" y="590" width="178" height="95" fill="#fff"/><circle cx="603" cy="545" r="56" fill="#000"/><circle cx="770" cy="545" r="56" fill="#000"/><path d="M686,600 L672,630 L700,630 Z" fill="#000"/><path d="M225,255 L395,830" stroke="#000" stroke-width="44" fill="none"/><path d="M215,262 C380,120 560,115 680,118 C820,120 940,170 1040,240 C930,200 810,185 680,190 C540,195 400,260 290,395 Z" fill="#000"/></g>
<g transform="translate(1563.4,97) scale(0.0418)"><path d="M460,800 L460,500 A225,225 0 0 1 910,500 L910,1360 Q910,1382 888,1382 L472,1382 Q452,1382 447,1362 L320,855 L345,832 L392,822 Z" fill="#000"/><circle cx="688" cy="492" r="178" fill="#fff"/><rect x="598" y="590" width="178" height="95" fill="#fff"/><circle cx="603" cy="545" r="56" fill="#000"/><circle cx="770" cy="545" r="56" fill="#000"/><path d="M686,600 L672,630 L700,630 Z" fill="#000"/><path d="M225,255 L395,830" stroke="#000" stroke-width="44" fill="none"/><path d="M215,262 C380,120 560,115 680,118 C820,120 940,170 1040,240 C930,200 810,185 680,190 C540,195 400,260 290,395 Z" fill="#000"/></g>
<line x1="476.3" y1="29.2" x2="476.3" y2="1367.5" stroke="#606060" stroke-opacity="0.45" stroke-width="1.8" stroke-dasharray="42 42" stroke-dashoffset="23.2"/>
<line x1="713.4" y1="29.2" x2="713.4" y2="1367.5" stroke="#606060" stroke-opacity="0.45" stroke-width="1.8" stroke-dasharray="42 42" stroke-dashoffset="23.2"/>
<line x1="1129.9" y1="29.2" x2="1129.9" y2="1367.5" stroke="#606060" stroke-opacity="0.45" stroke-width="1.8" stroke-dasharray="42 42" stroke-dashoffset="23.2"/>
</svg>
</body></html>
